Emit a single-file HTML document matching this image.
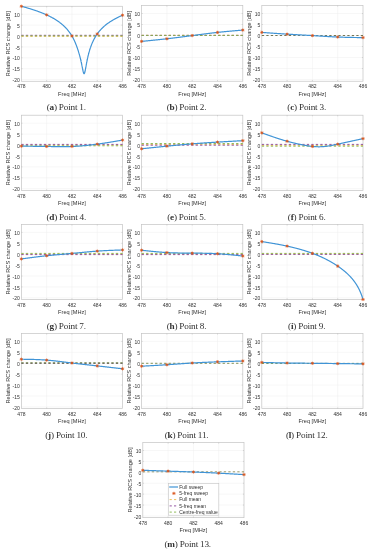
<!DOCTYPE html>
<html><head><meta charset="utf-8"><style>
html,body{margin:0;padding:0;background:#fff;}
body{width:373px;height:550px;overflow:hidden;}
svg{display:block;filter:blur(0.4px);}
.t{text-rendering:auto;}
</style></head><body>
<svg width="373" height="550" viewBox="0 0 373 550">
<rect width="373" height="550" fill="#fff"/>
<clipPath id="clipa"><rect x="20.85" y="6.07" width="102.20" height="75.40"/></clipPath>
<path d="M46.65 6.27V81.27M71.95 6.27V81.27M97.25 6.27V81.27M21.35 14.24H122.55M21.35 25.13H122.55M21.35 36.03H122.55M21.35 46.92H122.55M21.35 57.81H122.55M21.35 68.70H122.55M21.35 79.59H122.55" stroke="#efefef" stroke-width="0.5" fill="none"/>
<rect x="21.35" y="6.27" width="101.20" height="75.00" fill="none" stroke="#c4c4c4" stroke-width="0.7"/>
<path d="M21.35 14.24h1.1M122.55 14.24h-1.1M21.35 25.13h1.1M122.55 25.13h-1.1M21.35 36.03h1.1M122.55 36.03h-1.1M21.35 46.92h1.1M122.55 46.92h-1.1M21.35 57.81h1.1M122.55 57.81h-1.1M21.35 68.70h1.1M122.55 68.70h-1.1M46.65 81.27v-1.1M46.65 6.27v1.1M71.95 81.27v-1.1M71.95 6.27v1.1M97.25 81.27v-1.1M97.25 6.27v1.1" stroke="#b8b8b8" stroke-width="0.5" fill="none"/>
<g clip-path="url(#clipa)">
<path d="M21.35 36.30H122.55" stroke="#EDB94A" stroke-width="0.9" stroke-dasharray="2.3 2.2" fill="none"/>
<path d="M21.35 35.30H122.55" stroke="#8A4498" stroke-width="0.9" stroke-dasharray="2.3 2.2" fill="none"/>
<path d="M21.35 35.85H122.55" stroke="#85B64A" stroke-width="0.9" stroke-dasharray="2.3 2.2" fill="none"/>
<path d="M21.35 6.27 L21.73 6.37 L22.11 6.47 L22.50 6.58 L22.88 6.68 L23.26 6.79 L23.64 6.89 L24.02 7.00 L24.41 7.10 L24.79 7.21 L25.17 7.32 L25.55 7.42 L25.93 7.53 L26.32 7.64 L26.70 7.75 L27.08 7.86 L27.46 7.97 L27.84 8.08 L28.23 8.20 L28.61 8.31 L28.99 8.43 L29.37 8.54 L29.76 8.66 L30.14 8.77 L30.52 8.89 L30.90 9.01 L31.28 9.13 L31.67 9.25 L32.05 9.37 L32.43 9.49 L32.81 9.62 L33.19 9.74 L33.58 9.86 L33.96 9.99 L34.34 10.12 L34.72 10.25 L35.10 10.37 L35.49 10.50 L35.87 10.64 L36.25 10.77 L36.63 10.90 L37.01 11.04 L37.40 11.17 L37.78 11.31 L38.16 11.45 L38.54 11.59 L38.92 11.73 L39.31 11.87 L39.69 12.01 L40.07 12.16 L40.45 12.30 L40.83 12.45 L41.22 12.60 L41.60 12.75 L41.98 12.90 L42.36 13.06 L42.74 13.21 L43.13 13.37 L43.51 13.53 L43.89 13.69 L44.27 13.85 L44.65 14.01 L45.04 14.18 L45.42 14.34 L45.80 14.51 L46.18 14.68 L46.57 14.86 L46.95 15.03 L47.33 15.21 L47.71 15.39 L48.09 15.57 L48.48 15.75 L48.86 15.94 L49.24 16.13 L49.62 16.32 L50.00 16.51 L50.39 16.71 L50.77 16.91 L51.15 17.11 L51.53 17.31 L51.91 17.52 L52.30 17.73 L52.68 17.94 L53.06 18.15 L53.44 18.37 L53.82 18.59 L54.21 18.82 L54.59 19.05 L54.97 19.28 L55.35 19.51 L55.73 19.75 L56.12 19.99 L56.50 20.24 L56.88 20.49 L57.26 20.75 L57.64 21.00 L58.03 21.27 L58.41 21.53 L58.79 21.81 L59.17 22.08 L59.55 22.37 L59.94 22.65 L60.32 22.95 L60.70 23.24 L61.08 23.55 L61.46 23.86 L61.85 24.17 L62.23 24.50 L62.61 24.83 L62.99 25.16 L63.38 25.50 L63.76 25.85 L64.14 26.21 L64.52 26.58 L64.90 26.95 L65.29 27.34 L65.67 27.73 L66.05 28.13 L66.43 28.55 L66.81 28.97 L67.20 29.40 L67.58 29.85 L67.96 30.31 L68.34 30.78 L68.72 31.26 L69.11 31.76 L69.49 32.28 L69.87 32.81 L70.25 33.36 L70.63 33.92 L71.02 34.51 L71.40 35.11 L71.78 35.74 L72.16 36.39 L72.54 37.07 L72.93 37.77 L73.31 38.49 L73.69 39.25 L74.07 40.03 L74.45 40.85 L74.84 41.69 L75.22 42.57 L75.60 43.48 L75.98 44.42 L76.36 45.40 L76.75 46.42 L77.13 47.48 L77.51 48.58 L77.89 49.72 L78.28 50.90 L78.28 50.90 L78.32 51.03 L78.36 51.17 L78.40 51.30 L78.44 51.44 L78.49 51.57 L78.53 51.71 L78.57 51.85 L78.61 51.99 L78.66 52.12 L78.70 52.26 L78.74 52.40 L78.78 52.54 L78.82 52.69 L78.87 52.83 L78.91 52.97 L78.95 53.11 L78.99 53.26 L79.04 53.40 L79.08 53.55 L79.12 53.69 L79.16 53.84 L79.21 53.99 L79.25 54.14 L79.29 54.29 L79.33 54.44 L79.37 54.59 L79.42 54.74 L79.46 54.89 L79.50 55.05 L79.54 55.20 L79.59 55.35 L79.63 55.51 L79.67 55.67 L79.71 55.82 L79.76 55.98 L79.80 56.14 L79.84 56.30 L79.88 56.46 L79.92 56.63 L79.97 56.79 L80.01 56.95 L80.05 57.12 L80.09 57.28 L80.14 57.45 L80.18 57.62 L80.22 57.79 L80.26 57.96 L80.31 58.13 L80.35 58.30 L80.39 58.47 L80.43 58.65 L80.47 58.82 L80.52 59.00 L80.56 59.17 L80.60 59.35 L80.64 59.53 L80.69 59.71 L80.73 59.89 L80.77 60.08 L80.81 60.26 L80.86 60.45 L80.90 60.63 L80.94 60.82 L80.98 61.01 L81.02 61.20 L81.07 61.39 L81.11 61.58 L81.15 61.77 L81.19 61.96 L81.24 62.16 L81.28 62.36 L81.32 62.55 L81.36 62.75 L81.41 62.95 L81.45 63.15 L81.49 63.35 L81.53 63.56 L81.57 63.76 L81.62 63.96 L81.66 64.17 L81.70 64.38 L81.74 64.58 L81.79 64.79 L81.83 65.00 L81.87 65.21 L81.91 65.42 L81.96 65.63 L82.00 65.84 L82.04 66.06 L82.08 66.27 L82.12 66.48 L82.17 66.70 L82.21 66.91 L82.25 67.13 L82.29 67.34 L82.34 67.55 L82.38 67.77 L82.42 67.98 L82.46 68.20 L82.51 68.41 L82.55 68.62 L82.59 68.83 L82.63 69.04 L82.67 69.25 L82.72 69.46 L82.76 69.67 L82.80 69.87 L82.84 70.08 L82.89 70.28 L82.93 70.47 L82.97 70.67 L83.01 70.86 L83.06 71.05 L83.10 71.23 L83.14 71.41 L83.18 71.59 L83.22 71.76 L83.27 71.93 L83.31 72.09 L83.35 72.25 L83.39 72.40 L83.44 72.54 L83.48 72.68 L83.52 72.81 L83.56 72.93 L83.61 73.04 L83.65 73.15 L83.69 73.25 L83.73 73.34 L83.77 73.42 L83.82 73.49 L83.86 73.55 L83.90 73.60 L83.94 73.65 L83.99 73.68 L84.03 73.70 L84.07 73.71 L84.11 73.71 L84.16 73.70 L84.20 73.68 L84.24 73.65 L84.28 73.61 L84.32 73.55 L84.37 73.49 L84.41 73.42 L84.45 73.34 L84.49 73.24 L84.54 73.14 L84.58 73.03 L84.62 72.91 L84.66 72.78 L84.71 72.65 L84.75 72.50 L84.79 72.35 L84.83 72.19 L84.88 72.03 L84.92 71.86 L84.96 71.68 L85.00 71.49 L85.04 71.30 L85.09 71.11 L85.13 70.91 L85.17 70.71 L85.21 70.50 L85.26 70.29 L85.30 70.07 L85.34 69.85 L85.38 69.63 L85.43 69.41 L85.47 69.18 L85.51 68.96 L85.55 68.73 L85.59 68.50 L85.64 68.27 L85.68 68.03 L85.72 67.80 L85.76 67.57 L85.81 67.33 L85.85 67.10 L85.89 66.86 L85.93 66.62 L85.98 66.39 L86.02 66.15 L86.06 65.92 L86.10 65.68 L86.14 65.45 L86.19 65.22 L86.23 64.98 L86.27 64.75 L86.31 64.52 L86.36 64.29 L86.40 64.06 L86.44 63.83 L86.48 63.60 L86.53 63.38 L86.57 63.15 L86.61 62.93 L86.65 62.70 L86.69 62.48 L86.74 62.26 L86.78 62.04 L86.82 61.83 L86.86 61.61 L86.91 61.39 L86.95 61.18 L86.99 60.97 L87.03 60.76 L87.08 60.55 L87.12 60.34 L87.16 60.13 L87.20 59.92 L87.24 59.72 L87.29 59.52 L87.33 59.31 L87.37 59.11 L87.41 58.92 L87.46 58.72 L87.50 58.52 L87.54 58.33 L87.58 58.13 L87.63 57.94 L87.67 57.75 L87.71 57.56 L87.75 57.37 L87.79 57.19 L87.84 57.00 L87.88 56.82 L87.92 56.63 L87.96 56.45 L88.01 56.27 L88.05 56.09 L88.09 55.92 L88.13 55.74 L88.18 55.56 L88.22 55.39 L88.26 55.22 L88.30 55.05 L88.34 54.87 L88.39 54.71 L88.43 54.54 L88.47 54.37 L88.51 54.20 L88.56 54.04 L88.60 53.88 L88.64 53.71 L88.68 53.55 L88.73 53.39 L88.77 53.23 L88.81 53.08 L88.85 52.92 L88.89 52.76 L88.94 52.61 L88.98 52.45 L89.02 52.30 L89.06 52.15 L89.11 52.00 L89.15 51.85 L89.19 51.70 L89.23 51.55 L89.28 51.41 L89.32 51.26 L89.36 51.11 L89.40 50.97 L89.44 50.83 L89.49 50.68 L89.53 50.54 L89.57 50.40 L89.61 50.26 L89.66 50.12 L89.70 49.99 L89.74 49.85 L89.78 49.71 L89.83 49.58 L89.87 49.44 L89.91 49.31 L89.95 49.18 L89.99 49.05 L90.04 48.91 L90.08 48.78 L90.12 48.65 L90.16 48.53 L90.21 48.40 L90.25 48.27 L90.29 48.14 L90.33 48.02 L90.38 47.89 L90.42 47.77 L90.46 47.64 L90.50 47.52 L90.54 47.40 L90.59 47.28 L90.63 47.16 L90.67 47.04 L90.71 46.92 L90.76 46.80 L90.80 46.68 L90.84 46.56 L90.88 46.45 L90.93 46.33 L90.93 46.33 L91.24 45.47 L91.56 44.65 L91.88 43.86 L92.20 43.10 L92.52 42.37 L92.84 41.66 L93.16 40.98 L93.48 40.32 L93.80 39.68 L94.12 39.07 L94.44 38.47 L94.76 37.89 L95.08 37.33 L95.40 36.79 L95.72 36.26 L96.04 35.75 L96.36 35.25 L96.67 34.77 L96.99 34.30 L97.31 33.84 L97.63 33.40 L97.95 32.97 L98.27 32.55 L98.59 32.14 L98.91 31.74 L99.23 31.35 L99.55 30.97 L99.87 30.59 L100.19 30.23 L100.51 29.88 L100.83 29.53 L101.15 29.19 L101.47 28.86 L101.79 28.53 L102.11 28.21 L102.43 27.90 L102.74 27.59 L103.06 27.29 L103.38 26.99 L103.70 26.70 L104.02 26.42 L104.34 26.14 L104.66 25.87 L104.98 25.60 L105.30 25.33 L105.62 25.07 L105.94 24.82 L106.26 24.56 L106.58 24.32 L106.90 24.07 L107.22 23.83 L107.54 23.59 L107.86 23.36 L108.18 23.13 L108.49 22.91 L108.81 22.68 L109.13 22.46 L109.45 22.25 L109.77 22.03 L110.09 21.82 L110.41 21.61 L110.73 21.41 L111.05 21.20 L111.37 21.00 L111.69 20.81 L112.01 20.61 L112.33 20.42 L112.65 20.23 L112.97 20.04 L113.29 19.85 L113.61 19.67 L113.92 19.49 L114.24 19.31 L114.56 19.13 L114.88 18.95 L115.20 18.78 L115.52 18.61 L115.84 18.44 L116.16 18.27 L116.48 18.10 L116.80 17.94 L117.12 17.77 L117.44 17.61 L117.76 17.45 L118.08 17.29 L118.40 17.13 L118.72 16.98 L119.04 16.82 L119.36 16.67 L119.67 16.52 L119.99 16.36 L120.31 16.22 L120.63 16.07 L120.95 15.92 L121.27 15.77 L121.59 15.63 L121.91 15.49 L122.23 15.34 L122.55 15.20" stroke="#4094d6" stroke-width="1.2" fill="none" stroke-linejoin="round"/>
</g>
<path d="M19.75 6.27H22.95M21.35 4.67V7.87M20.22 5.14L22.48 7.40M20.22 7.40L22.48 5.14" stroke="#D95319" stroke-width="0.75" fill="none"/>
<path d="M45.05 14.90H48.25M46.65 13.30V16.50M45.52 13.76L47.78 16.03M45.52 16.03L47.78 13.76" stroke="#D95319" stroke-width="0.75" fill="none"/>
<path d="M70.35 36.03H73.55M71.95 34.43V37.63M70.82 34.89L73.08 37.16M70.82 37.16L73.08 34.89" stroke="#D95319" stroke-width="0.75" fill="none"/>
<path d="M95.65 33.93H98.85M97.25 32.33V35.53M96.12 32.80L98.38 35.07M96.12 35.07L98.38 32.80" stroke="#D95319" stroke-width="0.75" fill="none"/>
<path d="M120.95 15.20H124.15M122.55 13.60V16.80M121.42 14.07L123.68 16.33M121.42 16.33L123.68 14.07" stroke="#D95319" stroke-width="0.75" fill="none"/>
<g class="t" font-family="&quot;Liberation Sans&quot;, sans-serif" font-size="5.0" fill="#333333"><text x="19.85" y="16.84" text-anchor="end">10</text><text x="19.85" y="27.73" text-anchor="end">5</text><text x="19.85" y="38.63" text-anchor="end">0</text><text x="19.85" y="49.52" text-anchor="end">-5</text><text x="19.85" y="60.41" text-anchor="end">-10</text><text x="19.85" y="71.30" text-anchor="end">-15</text><text x="19.85" y="82.19" text-anchor="end">-20</text><text x="21.35" y="87.77" text-anchor="middle">478</text><text x="46.65" y="87.77" text-anchor="middle">480</text><text x="71.95" y="87.77" text-anchor="middle">482</text><text x="97.25" y="87.77" text-anchor="middle">484</text><text x="122.55" y="87.77" text-anchor="middle">486</text></g>
<text x="71.95" y="95.87" text-anchor="middle" class="t" font-family="&quot;Liberation Sans&quot;, sans-serif" font-size="5.6" fill="#333333">Freq [MHz]</text>
<text transform="translate(10.30 43.77) rotate(-90)" x="0" y="0" text-anchor="middle" class="t" font-family="&quot;Liberation Sans&quot;, sans-serif" font-size="5.6" fill="#333333">Relative RCS change [dB]</text>
<text x="66.35" y="110.37" text-anchor="middle" font-family="&quot;Liberation Serif&quot;, serif" font-size="9.2" fill="#303030" textLength="39.39" lengthAdjust="spacing">(<tspan font-weight="bold">a</tspan>) Point 1.</text>
<clipPath id="clipb"><rect x="141.10" y="5.27" width="102.20" height="76.15"/></clipPath>
<path d="M166.90 5.47V81.22M192.20 5.47V81.22M217.50 5.47V81.22M141.60 13.52H242.80M141.60 24.52H242.80M141.60 35.52H242.80M141.60 46.52H242.80M141.60 57.52H242.80M141.60 68.53H242.80M141.60 79.53H242.80" stroke="#efefef" stroke-width="0.5" fill="none"/>
<rect x="141.60" y="5.47" width="101.20" height="75.75" fill="none" stroke="#c4c4c4" stroke-width="0.7"/>
<path d="M141.60 13.52h1.1M242.80 13.52h-1.1M141.60 24.52h1.1M242.80 24.52h-1.1M141.60 35.52h1.1M242.80 35.52h-1.1M141.60 46.52h1.1M242.80 46.52h-1.1M141.60 57.52h1.1M242.80 57.52h-1.1M141.60 68.53h1.1M242.80 68.53h-1.1M166.90 81.22v-1.1M166.90 5.47v1.1M192.20 81.22v-1.1M192.20 5.47v1.1M217.50 81.22v-1.1M217.50 5.47v1.1" stroke="#b8b8b8" stroke-width="0.5" fill="none"/>
<g clip-path="url(#clipb)">
<path d="M141.60 35.30H242.80" stroke="#EDB94A" stroke-width="0.9" stroke-dasharray="2.3 2.2" fill="none"/>
<path d="M141.60 35.40H242.80" stroke="#8A4498" stroke-width="0.9" stroke-dasharray="2.3 2.2" fill="none"/>
<path d="M141.60 35.45H242.80" stroke="#85B64A" stroke-width="0.9" stroke-dasharray="2.3 2.2" fill="none"/>
<path d="M141.60 41.37 L141.85 41.35 L142.11 41.33 L142.36 41.30 L142.61 41.28 L142.87 41.25 L143.12 41.23 L143.38 41.20 L143.63 41.18 L143.88 41.15 L144.14 41.13 L144.39 41.10 L144.64 41.08 L144.90 41.05 L145.15 41.03 L145.40 41.00 L145.66 40.98 L145.91 40.95 L146.17 40.93 L146.42 40.90 L146.67 40.88 L146.93 40.85 L147.18 40.83 L147.43 40.80 L147.69 40.78 L147.94 40.75 L148.19 40.73 L148.45 40.70 L148.70 40.68 L148.96 40.65 L149.21 40.63 L149.46 40.60 L149.72 40.58 L149.97 40.55 L150.22 40.53 L150.48 40.50 L150.73 40.48 L150.98 40.45 L151.24 40.43 L151.49 40.40 L151.75 40.38 L152.00 40.35 L152.25 40.33 L152.51 40.30 L152.76 40.27 L153.01 40.25 L153.27 40.22 L153.52 40.20 L153.77 40.17 L154.03 40.15 L154.28 40.12 L154.54 40.10 L154.79 40.07 L155.04 40.04 L155.30 40.02 L155.55 39.99 L155.80 39.97 L156.06 39.94 L156.31 39.91 L156.56 39.89 L156.82 39.86 L157.07 39.83 L157.33 39.81 L157.58 39.78 L157.83 39.76 L158.09 39.73 L158.34 39.70 L158.59 39.68 L158.85 39.65 L159.10 39.62 L159.35 39.60 L159.61 39.57 L159.86 39.54 L160.12 39.52 L160.37 39.49 L160.62 39.46 L160.88 39.43 L161.13 39.41 L161.38 39.38 L161.64 39.35 L161.89 39.32 L162.14 39.30 L162.40 39.27 L162.65 39.24 L162.91 39.21 L163.16 39.19 L163.41 39.16 L163.67 39.13 L163.92 39.10 L164.17 39.08 L164.43 39.05 L164.68 39.02 L164.93 38.99 L165.19 38.96 L165.44 38.93 L165.70 38.91 L165.95 38.88 L166.20 38.85 L166.46 38.82 L166.71 38.79 L166.96 38.76 L167.22 38.73 L167.47 38.70 L167.72 38.67 L167.98 38.65 L168.23 38.62 L168.49 38.59 L168.74 38.56 L168.99 38.53 L169.25 38.50 L169.50 38.47 L169.75 38.44 L170.01 38.41 L170.26 38.38 L170.51 38.35 L170.77 38.32 L171.02 38.29 L171.28 38.26 L171.53 38.23 L171.78 38.20 L172.04 38.17 L172.29 38.14 L172.54 38.11 L172.80 38.08 L173.05 38.04 L173.30 38.01 L173.56 37.98 L173.81 37.95 L174.07 37.92 L174.32 37.89 L174.57 37.86 L174.83 37.83 L175.08 37.80 L175.33 37.77 L175.59 37.73 L175.84 37.70 L176.09 37.67 L176.35 37.64 L176.60 37.61 L176.86 37.58 L177.11 37.54 L177.36 37.51 L177.62 37.48 L177.87 37.45 L178.12 37.42 L178.38 37.39 L178.63 37.35 L178.88 37.32 L179.14 37.29 L179.39 37.26 L179.65 37.22 L179.90 37.19 L180.15 37.16 L180.41 37.13 L180.66 37.10 L180.91 37.06 L181.17 37.03 L181.42 37.00 L181.67 36.97 L181.93 36.93 L182.18 36.90 L182.44 36.87 L182.69 36.83 L182.94 36.80 L183.20 36.77 L183.45 36.74 L183.70 36.70 L183.96 36.67 L184.21 36.64 L184.46 36.60 L184.72 36.57 L184.97 36.54 L185.23 36.50 L185.48 36.47 L185.73 36.44 L185.99 36.41 L186.24 36.37 L186.49 36.34 L186.75 36.31 L187.00 36.27 L187.25 36.24 L187.51 36.21 L187.76 36.17 L188.02 36.14 L188.27 36.11 L188.52 36.07 L188.78 36.04 L189.03 36.00 L189.28 35.97 L189.54 35.94 L189.79 35.90 L190.04 35.87 L190.30 35.84 L190.55 35.80 L190.81 35.77 L191.06 35.74 L191.31 35.70 L191.57 35.67 L191.82 35.63 L192.07 35.60 L192.33 35.57 L192.58 35.53 L192.83 35.50 L193.09 35.47 L193.34 35.43 L193.59 35.40 L193.85 35.36 L194.10 35.33 L194.36 35.30 L194.61 35.26 L194.86 35.23 L195.12 35.20 L195.37 35.16 L195.62 35.13 L195.88 35.09 L196.13 35.06 L196.38 35.03 L196.64 34.99 L196.89 34.96 L197.15 34.93 L197.40 34.89 L197.65 34.86 L197.91 34.82 L198.16 34.79 L198.41 34.76 L198.67 34.72 L198.92 34.69 L199.17 34.66 L199.43 34.62 L199.68 34.59 L199.94 34.56 L200.19 34.52 L200.44 34.49 L200.70 34.46 L200.95 34.42 L201.20 34.39 L201.46 34.36 L201.71 34.32 L201.96 34.29 L202.22 34.26 L202.47 34.22 L202.73 34.19 L202.98 34.16 L203.23 34.12 L203.49 34.09 L203.74 34.06 L203.99 34.03 L204.25 33.99 L204.50 33.96 L204.75 33.93 L205.01 33.90 L205.26 33.86 L205.52 33.83 L205.77 33.80 L206.02 33.77 L206.28 33.73 L206.53 33.70 L206.78 33.67 L207.04 33.64 L207.29 33.61 L207.54 33.57 L207.80 33.54 L208.05 33.51 L208.31 33.48 L208.56 33.45 L208.81 33.42 L209.07 33.38 L209.32 33.35 L209.57 33.32 L209.83 33.29 L210.08 33.26 L210.33 33.23 L210.59 33.20 L210.84 33.17 L211.10 33.14 L211.35 33.11 L211.60 33.08 L211.86 33.05 L212.11 33.02 L212.36 32.99 L212.62 32.96 L212.87 32.93 L213.12 32.90 L213.38 32.87 L213.63 32.84 L213.89 32.81 L214.14 32.78 L214.39 32.75 L214.65 32.72 L214.90 32.69 L215.15 32.66 L215.41 32.63 L215.66 32.60 L215.91 32.58 L216.17 32.55 L216.42 32.52 L216.68 32.49 L216.93 32.46 L217.18 32.43 L217.44 32.41 L217.69 32.38 L217.94 32.35 L218.20 32.32 L218.45 32.30 L218.70 32.27 L218.96 32.24 L219.21 32.22 L219.47 32.19 L219.72 32.16 L219.97 32.14 L220.23 32.11 L220.48 32.08 L220.73 32.06 L220.99 32.03 L221.24 32.01 L221.49 31.98 L221.75 31.95 L222.00 31.93 L222.26 31.90 L222.51 31.88 L222.76 31.85 L223.02 31.83 L223.27 31.80 L223.52 31.78 L223.78 31.75 L224.03 31.73 L224.28 31.70 L224.54 31.68 L224.79 31.65 L225.05 31.63 L225.30 31.61 L225.55 31.58 L225.81 31.56 L226.06 31.53 L226.31 31.51 L226.57 31.49 L226.82 31.46 L227.07 31.44 L227.33 31.41 L227.58 31.39 L227.84 31.37 L228.09 31.34 L228.34 31.32 L228.60 31.30 L228.85 31.28 L229.10 31.25 L229.36 31.23 L229.61 31.21 L229.86 31.18 L230.12 31.16 L230.37 31.14 L230.63 31.12 L230.88 31.09 L231.13 31.07 L231.39 31.05 L231.64 31.03 L231.89 31.00 L232.15 30.98 L232.40 30.96 L232.65 30.94 L232.91 30.92 L233.16 30.89 L233.42 30.87 L233.67 30.85 L233.92 30.83 L234.18 30.81 L234.43 30.78 L234.68 30.76 L234.94 30.74 L235.19 30.72 L235.44 30.70 L235.70 30.68 L235.95 30.65 L236.21 30.63 L236.46 30.61 L236.71 30.59 L236.97 30.57 L237.22 30.55 L237.47 30.53 L237.73 30.50 L237.98 30.48 L238.23 30.46 L238.49 30.44 L238.74 30.42 L239.00 30.40 L239.25 30.38 L239.50 30.36 L239.76 30.34 L240.01 30.31 L240.26 30.29 L240.52 30.27 L240.77 30.25 L241.02 30.23 L241.28 30.21 L241.53 30.19 L241.79 30.17 L242.04 30.15 L242.29 30.13 L242.55 30.10 L242.80 30.08" stroke="#4094d6" stroke-width="1.2" fill="none" stroke-linejoin="round"/>
</g>
<path d="M140.00 41.37H143.20M141.60 39.77V42.97M140.47 40.24L142.73 42.51M140.47 42.51L142.73 40.24" stroke="#D95319" stroke-width="0.75" fill="none"/>
<path d="M165.30 38.77H168.50M166.90 37.17V40.37M165.77 37.64L168.03 39.90M165.77 39.90L168.03 37.64" stroke="#D95319" stroke-width="0.75" fill="none"/>
<path d="M190.60 35.58H193.80M192.20 33.98V37.18M191.07 34.45L193.33 36.72M191.07 36.72L193.33 34.45" stroke="#D95319" stroke-width="0.75" fill="none"/>
<path d="M215.90 32.40H219.10M217.50 30.80V34.00M216.37 31.27L218.63 33.53M216.37 33.53L218.63 31.27" stroke="#D95319" stroke-width="0.75" fill="none"/>
<path d="M241.20 30.08H244.40M242.80 28.48V31.68M241.67 28.95L243.93 31.21M241.67 31.21L243.93 28.95" stroke="#D95319" stroke-width="0.75" fill="none"/>
<g class="t" font-family="&quot;Liberation Sans&quot;, sans-serif" font-size="5.0" fill="#333333"><text x="140.10" y="16.12" text-anchor="end">10</text><text x="140.10" y="27.12" text-anchor="end">5</text><text x="140.10" y="38.12" text-anchor="end">0</text><text x="140.10" y="49.12" text-anchor="end">-5</text><text x="140.10" y="60.12" text-anchor="end">-10</text><text x="140.10" y="71.13" text-anchor="end">-15</text><text x="140.10" y="82.13" text-anchor="end">-20</text><text x="141.60" y="87.72" text-anchor="middle">478</text><text x="166.90" y="87.72" text-anchor="middle">480</text><text x="192.20" y="87.72" text-anchor="middle">482</text><text x="217.50" y="87.72" text-anchor="middle">484</text><text x="242.80" y="87.72" text-anchor="middle">486</text></g>
<text x="192.20" y="95.82" text-anchor="middle" class="t" font-family="&quot;Liberation Sans&quot;, sans-serif" font-size="5.6" fill="#333333">Freq [MHz]</text>
<text transform="translate(130.55 43.34) rotate(-90)" x="0" y="0" text-anchor="middle" class="t" font-family="&quot;Liberation Sans&quot;, sans-serif" font-size="5.6" fill="#333333">Relative RCS change [dB]</text>
<text x="186.60" y="110.32" text-anchor="middle" font-family="&quot;Liberation Serif&quot;, serif" font-size="9.2" fill="#303030" textLength="39.88" lengthAdjust="spacing">(<tspan font-weight="bold">b</tspan>) Point 2.</text>
<clipPath id="clipc"><rect x="261.30" y="5.27" width="102.20" height="76.15"/></clipPath>
<path d="M287.10 5.47V81.22M312.40 5.47V81.22M337.70 5.47V81.22M261.80 13.52H363.00M261.80 24.52H363.00M261.80 35.52H363.00M261.80 46.52H363.00M261.80 57.52H363.00M261.80 68.53H363.00M261.80 79.53H363.00" stroke="#efefef" stroke-width="0.5" fill="none"/>
<rect x="261.80" y="5.47" width="101.20" height="75.75" fill="none" stroke="#c4c4c4" stroke-width="0.7"/>
<path d="M261.80 13.52h1.1M363.00 13.52h-1.1M261.80 24.52h1.1M363.00 24.52h-1.1M261.80 35.52h1.1M363.00 35.52h-1.1M261.80 46.52h1.1M363.00 46.52h-1.1M261.80 57.52h1.1M363.00 57.52h-1.1M261.80 68.53h1.1M363.00 68.53h-1.1M287.10 81.22v-1.1M287.10 5.47v1.1M312.40 81.22v-1.1M312.40 5.47v1.1M337.70 81.22v-1.1M337.70 5.47v1.1" stroke="#b8b8b8" stroke-width="0.5" fill="none"/>
<g clip-path="url(#clipc)">
<path d="M261.80 35.50H363.00" stroke="#66663f" stroke-width="0.9" stroke-dasharray="2.3 2.2" fill="none"/>
<path d="M261.80 32.40 L262.05 32.42 L262.31 32.44 L262.56 32.45 L262.81 32.47 L263.07 32.49 L263.32 32.51 L263.58 32.53 L263.83 32.55 L264.08 32.56 L264.34 32.58 L264.59 32.60 L264.84 32.62 L265.10 32.64 L265.35 32.66 L265.60 32.67 L265.86 32.69 L266.11 32.71 L266.37 32.73 L266.62 32.75 L266.87 32.77 L267.13 32.78 L267.38 32.80 L267.63 32.82 L267.89 32.84 L268.14 32.86 L268.39 32.87 L268.65 32.89 L268.90 32.91 L269.16 32.93 L269.41 32.95 L269.66 32.97 L269.92 32.98 L270.17 33.00 L270.42 33.02 L270.68 33.04 L270.93 33.06 L271.18 33.07 L271.44 33.09 L271.69 33.11 L271.95 33.13 L272.20 33.15 L272.45 33.16 L272.71 33.18 L272.96 33.20 L273.21 33.22 L273.47 33.23 L273.72 33.25 L273.97 33.27 L274.23 33.29 L274.48 33.31 L274.74 33.32 L274.99 33.34 L275.24 33.36 L275.50 33.38 L275.75 33.39 L276.00 33.41 L276.26 33.43 L276.51 33.45 L276.76 33.46 L277.02 33.48 L277.27 33.50 L277.53 33.51 L277.78 33.53 L278.03 33.55 L278.29 33.57 L278.54 33.58 L278.79 33.60 L279.05 33.62 L279.30 33.63 L279.55 33.65 L279.81 33.67 L280.06 33.69 L280.32 33.70 L280.57 33.72 L280.82 33.74 L281.08 33.75 L281.33 33.77 L281.58 33.79 L281.84 33.80 L282.09 33.82 L282.34 33.84 L282.60 33.85 L282.85 33.87 L283.11 33.89 L283.36 33.90 L283.61 33.92 L283.87 33.93 L284.12 33.95 L284.37 33.97 L284.63 33.98 L284.88 34.00 L285.13 34.01 L285.39 34.03 L285.64 34.05 L285.90 34.06 L286.15 34.08 L286.40 34.09 L286.66 34.11 L286.91 34.12 L287.16 34.14 L287.42 34.16 L287.67 34.17 L287.92 34.19 L288.18 34.20 L288.43 34.22 L288.69 34.23 L288.94 34.25 L289.19 34.26 L289.45 34.28 L289.70 34.29 L289.95 34.31 L290.21 34.32 L290.46 34.34 L290.71 34.35 L290.97 34.37 L291.22 34.38 L291.48 34.40 L291.73 34.41 L291.98 34.43 L292.24 34.44 L292.49 34.46 L292.74 34.47 L293.00 34.49 L293.25 34.50 L293.50 34.51 L293.76 34.53 L294.01 34.54 L294.27 34.56 L294.52 34.57 L294.77 34.59 L295.03 34.60 L295.28 34.61 L295.53 34.63 L295.79 34.64 L296.04 34.66 L296.29 34.67 L296.55 34.69 L296.80 34.70 L297.06 34.71 L297.31 34.73 L297.56 34.74 L297.82 34.76 L298.07 34.77 L298.32 34.79 L298.58 34.80 L298.83 34.81 L299.08 34.83 L299.34 34.84 L299.59 34.86 L299.85 34.87 L300.10 34.88 L300.35 34.90 L300.61 34.91 L300.86 34.93 L301.11 34.94 L301.37 34.95 L301.62 34.97 L301.87 34.98 L302.13 35.00 L302.38 35.01 L302.64 35.02 L302.89 35.04 L303.14 35.05 L303.40 35.07 L303.65 35.08 L303.90 35.10 L304.16 35.11 L304.41 35.12 L304.66 35.14 L304.92 35.15 L305.17 35.17 L305.43 35.18 L305.68 35.19 L305.93 35.21 L306.19 35.22 L306.44 35.24 L306.69 35.25 L306.95 35.27 L307.20 35.28 L307.45 35.30 L307.71 35.31 L307.96 35.32 L308.22 35.34 L308.47 35.35 L308.72 35.37 L308.98 35.38 L309.23 35.40 L309.48 35.41 L309.74 35.43 L309.99 35.44 L310.24 35.46 L310.50 35.47 L310.75 35.49 L311.01 35.50 L311.26 35.52 L311.51 35.53 L311.77 35.55 L312.02 35.56 L312.27 35.58 L312.53 35.59 L312.78 35.61 L313.03 35.62 L313.29 35.64 L313.54 35.65 L313.79 35.67 L314.05 35.68 L314.30 35.70 L314.56 35.72 L314.81 35.73 L315.06 35.75 L315.32 35.76 L315.57 35.78 L315.82 35.79 L316.08 35.81 L316.33 35.83 L316.58 35.84 L316.84 35.86 L317.09 35.87 L317.35 35.89 L317.60 35.90 L317.85 35.92 L318.11 35.94 L318.36 35.95 L318.61 35.97 L318.87 35.98 L319.12 36.00 L319.37 36.02 L319.63 36.03 L319.88 36.05 L320.14 36.06 L320.39 36.08 L320.64 36.09 L320.90 36.11 L321.15 36.13 L321.40 36.14 L321.66 36.16 L321.91 36.17 L322.16 36.19 L322.42 36.21 L322.67 36.22 L322.93 36.24 L323.18 36.25 L323.43 36.27 L323.69 36.28 L323.94 36.30 L324.19 36.31 L324.45 36.33 L324.70 36.35 L324.95 36.36 L325.21 36.38 L325.46 36.39 L325.72 36.41 L325.97 36.42 L326.22 36.44 L326.48 36.45 L326.73 36.47 L326.98 36.48 L327.24 36.50 L327.49 36.51 L327.74 36.53 L328.00 36.54 L328.25 36.56 L328.51 36.57 L328.76 36.58 L329.01 36.60 L329.27 36.61 L329.52 36.63 L329.77 36.64 L330.03 36.66 L330.28 36.67 L330.53 36.68 L330.79 36.70 L331.04 36.71 L331.30 36.72 L331.55 36.74 L331.80 36.75 L332.06 36.76 L332.31 36.78 L332.56 36.79 L332.82 36.80 L333.07 36.82 L333.32 36.83 L333.58 36.84 L333.83 36.86 L334.09 36.87 L334.34 36.88 L334.59 36.89 L334.85 36.90 L335.10 36.92 L335.35 36.93 L335.61 36.94 L335.86 36.95 L336.11 36.96 L336.37 36.97 L336.62 36.99 L336.88 37.00 L337.13 37.01 L337.38 37.02 L337.64 37.03 L337.89 37.04 L338.14 37.05 L338.40 37.06 L338.65 37.07 L338.90 37.08 L339.16 37.09 L339.41 37.10 L339.67 37.11 L339.92 37.12 L340.17 37.13 L340.43 37.14 L340.68 37.15 L340.93 37.16 L341.19 37.16 L341.44 37.17 L341.69 37.18 L341.95 37.19 L342.20 37.20 L342.46 37.21 L342.71 37.21 L342.96 37.22 L343.22 37.23 L343.47 37.24 L343.72 37.25 L343.98 37.25 L344.23 37.26 L344.48 37.27 L344.74 37.28 L344.99 37.28 L345.25 37.29 L345.50 37.30 L345.75 37.30 L346.01 37.31 L346.26 37.32 L346.51 37.32 L346.77 37.33 L347.02 37.34 L347.27 37.34 L347.53 37.35 L347.78 37.35 L348.04 37.36 L348.29 37.37 L348.54 37.37 L348.80 37.38 L349.05 37.38 L349.30 37.39 L349.56 37.39 L349.81 37.40 L350.06 37.40 L350.32 37.41 L350.57 37.42 L350.83 37.42 L351.08 37.43 L351.33 37.43 L351.59 37.44 L351.84 37.44 L352.09 37.44 L352.35 37.45 L352.60 37.45 L352.85 37.46 L353.11 37.46 L353.36 37.47 L353.62 37.47 L353.87 37.48 L354.12 37.48 L354.38 37.49 L354.63 37.49 L354.88 37.49 L355.14 37.50 L355.39 37.50 L355.64 37.51 L355.90 37.51 L356.15 37.51 L356.41 37.52 L356.66 37.52 L356.91 37.53 L357.17 37.53 L357.42 37.53 L357.67 37.54 L357.93 37.54 L358.18 37.54 L358.43 37.55 L358.69 37.55 L358.94 37.56 L359.20 37.56 L359.45 37.56 L359.70 37.57 L359.96 37.57 L360.21 37.57 L360.46 37.58 L360.72 37.58 L360.97 37.58 L361.22 37.59 L361.48 37.59 L361.73 37.59 L361.99 37.60 L362.24 37.60 L362.49 37.60 L362.75 37.61 L363.00 37.61" stroke="#4094d6" stroke-width="1.2" fill="none" stroke-linejoin="round"/>
</g>
<path d="M260.20 32.40H263.40M261.80 30.80V34.00M260.67 31.27L262.93 33.53M260.67 33.53L262.93 31.27" stroke="#D95319" stroke-width="0.75" fill="none"/>
<path d="M285.50 34.14H288.70M287.10 32.54V35.74M285.97 33.01L288.23 35.27M285.97 35.27L288.23 33.01" stroke="#D95319" stroke-width="0.75" fill="none"/>
<path d="M310.80 35.58H314.00M312.40 33.98V37.18M311.27 34.45L313.53 36.72M311.27 36.72L313.53 34.45" stroke="#D95319" stroke-width="0.75" fill="none"/>
<path d="M336.10 37.03H339.30M337.70 35.43V38.63M336.57 35.90L338.83 38.16M336.57 38.16L338.83 35.90" stroke="#D95319" stroke-width="0.75" fill="none"/>
<path d="M361.40 37.61H364.60M363.00 36.01V39.21M361.87 36.48L364.13 38.74M361.87 38.74L364.13 36.48" stroke="#D95319" stroke-width="0.75" fill="none"/>
<g class="t" font-family="&quot;Liberation Sans&quot;, sans-serif" font-size="5.0" fill="#333333"><text x="260.30" y="16.12" text-anchor="end">10</text><text x="260.30" y="27.12" text-anchor="end">5</text><text x="260.30" y="38.12" text-anchor="end">0</text><text x="260.30" y="49.12" text-anchor="end">-5</text><text x="260.30" y="60.12" text-anchor="end">-10</text><text x="260.30" y="71.13" text-anchor="end">-15</text><text x="260.30" y="82.13" text-anchor="end">-20</text><text x="261.80" y="87.72" text-anchor="middle">478</text><text x="287.10" y="87.72" text-anchor="middle">480</text><text x="312.40" y="87.72" text-anchor="middle">482</text><text x="337.70" y="87.72" text-anchor="middle">484</text><text x="363.00" y="87.72" text-anchor="middle">486</text></g>
<text x="312.40" y="95.82" text-anchor="middle" class="t" font-family="&quot;Liberation Sans&quot;, sans-serif" font-size="5.6" fill="#333333">Freq [MHz]</text>
<text transform="translate(250.75 43.34) rotate(-90)" x="0" y="0" text-anchor="middle" class="t" font-family="&quot;Liberation Sans&quot;, sans-serif" font-size="5.6" fill="#333333">Relative RCS change [dB]</text>
<text x="306.80" y="110.32" text-anchor="middle" font-family="&quot;Liberation Serif&quot;, serif" font-size="9.2" fill="#303030" textLength="38.90" lengthAdjust="spacing">(<tspan font-weight="bold">c</tspan>) Point 3.</text>
<clipPath id="clipd"><rect x="20.85" y="115.00" width="102.20" height="75.60"/></clipPath>
<path d="M46.65 115.20V190.40M71.95 115.20V190.40M97.25 115.20V190.40M21.35 123.19H122.55M21.35 134.11H122.55M21.35 145.04H122.55M21.35 155.96H122.55M21.35 166.88H122.55M21.35 177.80H122.55M21.35 188.72H122.55" stroke="#efefef" stroke-width="0.5" fill="none"/>
<rect x="21.35" y="115.20" width="101.20" height="75.20" fill="none" stroke="#c4c4c4" stroke-width="0.7"/>
<path d="M21.35 123.19h1.1M122.55 123.19h-1.1M21.35 134.11h1.1M122.55 134.11h-1.1M21.35 145.04h1.1M122.55 145.04h-1.1M21.35 155.96h1.1M122.55 155.96h-1.1M21.35 166.88h1.1M122.55 166.88h-1.1M21.35 177.80h1.1M122.55 177.80h-1.1M46.65 190.40v-1.1M46.65 115.20v1.1M71.95 190.40v-1.1M71.95 115.20v1.1M97.25 190.40v-1.1M97.25 115.20v1.1" stroke="#b8b8b8" stroke-width="0.5" fill="none"/>
<g clip-path="url(#clipd)">
<path d="M21.35 145.10H122.55" stroke="#EDB94A" stroke-width="0.9" stroke-dasharray="2.3 2.2" fill="none"/>
<path d="M21.35 144.40H122.55" stroke="#8A4498" stroke-width="0.9" stroke-dasharray="2.3 2.2" fill="none"/>
<path d="M21.35 145.80H122.55" stroke="#85B64A" stroke-width="0.9" stroke-dasharray="2.3 2.2" fill="none"/>
<path d="M21.35 146.16 L21.60 146.17 L21.86 146.17 L22.11 146.17 L22.36 146.17 L22.62 146.17 L22.87 146.18 L23.13 146.18 L23.38 146.18 L23.63 146.18 L23.89 146.19 L24.14 146.19 L24.39 146.19 L24.65 146.19 L24.90 146.20 L25.15 146.20 L25.41 146.20 L25.66 146.20 L25.92 146.21 L26.17 146.21 L26.42 146.21 L26.68 146.21 L26.93 146.22 L27.18 146.22 L27.44 146.22 L27.69 146.22 L27.94 146.22 L28.20 146.23 L28.45 146.23 L28.71 146.23 L28.96 146.23 L29.21 146.24 L29.47 146.24 L29.72 146.24 L29.97 146.24 L30.23 146.25 L30.48 146.25 L30.73 146.25 L30.99 146.26 L31.24 146.26 L31.50 146.26 L31.75 146.26 L32.00 146.27 L32.26 146.27 L32.51 146.27 L32.76 146.27 L33.02 146.28 L33.27 146.28 L33.52 146.28 L33.78 146.28 L34.03 146.29 L34.29 146.29 L34.54 146.29 L34.79 146.30 L35.05 146.30 L35.30 146.30 L35.55 146.30 L35.81 146.31 L36.06 146.31 L36.31 146.31 L36.57 146.32 L36.82 146.32 L37.08 146.32 L37.33 146.32 L37.58 146.33 L37.84 146.33 L38.09 146.33 L38.34 146.34 L38.60 146.34 L38.85 146.34 L39.10 146.35 L39.36 146.35 L39.61 146.35 L39.87 146.36 L40.12 146.36 L40.37 146.36 L40.63 146.37 L40.88 146.37 L41.13 146.37 L41.39 146.38 L41.64 146.38 L41.89 146.38 L42.15 146.39 L42.40 146.39 L42.66 146.39 L42.91 146.40 L43.16 146.40 L43.42 146.40 L43.67 146.41 L43.92 146.41 L44.18 146.41 L44.43 146.42 L44.68 146.42 L44.94 146.43 L45.19 146.43 L45.45 146.43 L45.70 146.44 L45.95 146.44 L46.21 146.45 L46.46 146.45 L46.71 146.45 L46.97 146.46 L47.22 146.46 L47.47 146.47 L47.73 146.47 L47.98 146.47 L48.24 146.48 L48.49 146.48 L48.74 146.49 L49.00 146.49 L49.25 146.50 L49.50 146.50 L49.76 146.50 L50.01 146.51 L50.26 146.51 L50.52 146.52 L50.77 146.52 L51.03 146.52 L51.28 146.53 L51.53 146.53 L51.79 146.54 L52.04 146.54 L52.29 146.54 L52.55 146.55 L52.80 146.55 L53.05 146.56 L53.31 146.56 L53.56 146.56 L53.82 146.57 L54.07 146.57 L54.32 146.57 L54.58 146.58 L54.83 146.58 L55.08 146.58 L55.34 146.59 L55.59 146.59 L55.84 146.59 L56.10 146.60 L56.35 146.60 L56.61 146.60 L56.86 146.61 L57.11 146.61 L57.37 146.61 L57.62 146.61 L57.87 146.62 L58.13 146.62 L58.38 146.62 L58.63 146.62 L58.89 146.62 L59.14 146.62 L59.40 146.63 L59.65 146.63 L59.90 146.63 L60.16 146.63 L60.41 146.63 L60.66 146.63 L60.92 146.63 L61.17 146.63 L61.42 146.63 L61.68 146.63 L61.93 146.63 L62.19 146.63 L62.44 146.63 L62.69 146.63 L62.95 146.63 L63.20 146.63 L63.45 146.63 L63.71 146.63 L63.96 146.62 L64.21 146.62 L64.47 146.62 L64.72 146.62 L64.98 146.62 L65.23 146.61 L65.48 146.61 L65.74 146.61 L65.99 146.60 L66.24 146.60 L66.50 146.60 L66.75 146.59 L67.00 146.59 L67.26 146.58 L67.51 146.58 L67.77 146.57 L68.02 146.57 L68.27 146.56 L68.53 146.56 L68.78 146.55 L69.03 146.55 L69.29 146.54 L69.54 146.53 L69.79 146.53 L70.05 146.52 L70.30 146.51 L70.56 146.50 L70.81 146.49 L71.06 146.49 L71.32 146.48 L71.57 146.47 L71.82 146.46 L72.08 146.45 L72.33 146.44 L72.58 146.43 L72.84 146.42 L73.09 146.41 L73.34 146.39 L73.60 146.38 L73.85 146.37 L74.11 146.36 L74.36 146.35 L74.61 146.33 L74.87 146.32 L75.12 146.31 L75.37 146.29 L75.63 146.28 L75.88 146.26 L76.13 146.25 L76.39 146.23 L76.64 146.22 L76.90 146.20 L77.15 146.19 L77.40 146.17 L77.66 146.16 L77.91 146.14 L78.16 146.12 L78.42 146.11 L78.67 146.09 L78.92 146.07 L79.18 146.05 L79.43 146.03 L79.69 146.02 L79.94 146.00 L80.19 145.98 L80.45 145.96 L80.70 145.94 L80.95 145.92 L81.21 145.90 L81.46 145.88 L81.71 145.86 L81.97 145.84 L82.22 145.81 L82.48 145.79 L82.73 145.77 L82.98 145.75 L83.24 145.73 L83.49 145.70 L83.74 145.68 L84.00 145.66 L84.25 145.64 L84.50 145.61 L84.76 145.59 L85.01 145.56 L85.27 145.54 L85.52 145.52 L85.77 145.49 L86.03 145.47 L86.28 145.44 L86.53 145.41 L86.79 145.39 L87.04 145.36 L87.29 145.34 L87.55 145.31 L87.80 145.28 L88.06 145.26 L88.31 145.23 L88.56 145.20 L88.82 145.17 L89.07 145.15 L89.32 145.12 L89.58 145.09 L89.83 145.06 L90.08 145.03 L90.34 145.00 L90.59 144.98 L90.85 144.95 L91.10 144.92 L91.35 144.89 L91.61 144.86 L91.86 144.83 L92.11 144.80 L92.37 144.77 L92.62 144.73 L92.87 144.70 L93.13 144.67 L93.38 144.64 L93.64 144.61 L93.89 144.58 L94.14 144.55 L94.40 144.51 L94.65 144.48 L94.90 144.45 L95.16 144.42 L95.41 144.38 L95.66 144.35 L95.92 144.32 L96.17 144.28 L96.43 144.25 L96.68 144.21 L96.93 144.18 L97.19 144.15 L97.44 144.11 L97.69 144.08 L97.95 144.04 L98.20 144.01 L98.45 143.97 L98.71 143.94 L98.96 143.90 L99.22 143.86 L99.47 143.83 L99.72 143.79 L99.98 143.76 L100.23 143.72 L100.48 143.68 L100.74 143.65 L100.99 143.61 L101.24 143.57 L101.50 143.53 L101.75 143.50 L102.01 143.46 L102.26 143.42 L102.51 143.38 L102.77 143.35 L103.02 143.31 L103.27 143.27 L103.53 143.23 L103.78 143.19 L104.03 143.15 L104.29 143.11 L104.54 143.08 L104.80 143.04 L105.05 143.00 L105.30 142.96 L105.56 142.92 L105.81 142.88 L106.06 142.84 L106.32 142.80 L106.57 142.76 L106.82 142.72 L107.08 142.68 L107.33 142.64 L107.59 142.60 L107.84 142.56 L108.09 142.52 L108.35 142.48 L108.60 142.44 L108.85 142.39 L109.11 142.35 L109.36 142.31 L109.61 142.27 L109.87 142.23 L110.12 142.19 L110.38 142.15 L110.63 142.11 L110.88 142.06 L111.14 142.02 L111.39 141.98 L111.64 141.94 L111.90 141.90 L112.15 141.85 L112.40 141.81 L112.66 141.77 L112.91 141.73 L113.17 141.68 L113.42 141.64 L113.67 141.60 L113.93 141.56 L114.18 141.51 L114.43 141.47 L114.69 141.43 L114.94 141.39 L115.19 141.34 L115.45 141.30 L115.70 141.26 L115.96 141.21 L116.21 141.17 L116.46 141.13 L116.72 141.08 L116.97 141.04 L117.22 141.00 L117.48 140.95 L117.73 140.91 L117.98 140.87 L118.24 140.82 L118.49 140.78 L118.75 140.74 L119.00 140.69 L119.25 140.65 L119.51 140.61 L119.76 140.56 L120.01 140.52 L120.27 140.48 L120.52 140.43 L120.77 140.39 L121.03 140.35 L121.28 140.30 L121.54 140.26 L121.79 140.21 L122.04 140.17 L122.30 140.13 L122.55 140.08" stroke="#4094d6" stroke-width="1.2" fill="none" stroke-linejoin="round"/>
</g>
<path d="M19.75 146.16H22.95M21.35 144.56V147.76M20.22 145.03L22.48 147.29M20.22 147.29L22.48 145.03" stroke="#D95319" stroke-width="0.75" fill="none"/>
<path d="M45.05 146.45H48.25M46.65 144.85V148.05M45.52 145.32L47.78 147.58M45.52 147.58L47.78 145.32" stroke="#D95319" stroke-width="0.75" fill="none"/>
<path d="M70.35 146.45H73.55M71.95 144.85V148.05M70.82 145.32L73.08 147.58M70.82 147.58L73.08 145.32" stroke="#D95319" stroke-width="0.75" fill="none"/>
<path d="M95.65 144.14H98.85M97.25 142.54V145.74M96.12 143.01L98.38 145.27M96.12 145.27L98.38 143.01" stroke="#D95319" stroke-width="0.75" fill="none"/>
<path d="M120.95 140.08H124.15M122.55 138.48V141.68M121.42 138.95L123.68 141.21M121.42 141.21L123.68 138.95" stroke="#D95319" stroke-width="0.75" fill="none"/>
<g class="t" font-family="&quot;Liberation Sans&quot;, sans-serif" font-size="5.0" fill="#333333"><text x="19.85" y="125.79" text-anchor="end">10</text><text x="19.85" y="136.71" text-anchor="end">5</text><text x="19.85" y="147.64" text-anchor="end">0</text><text x="19.85" y="158.56" text-anchor="end">-5</text><text x="19.85" y="169.48" text-anchor="end">-10</text><text x="19.85" y="180.40" text-anchor="end">-15</text><text x="19.85" y="191.32" text-anchor="end">-20</text><text x="21.35" y="197.70" text-anchor="middle">478</text><text x="46.65" y="197.70" text-anchor="middle">480</text><text x="71.95" y="197.70" text-anchor="middle">482</text><text x="97.25" y="197.70" text-anchor="middle">484</text><text x="122.55" y="197.70" text-anchor="middle">486</text></g>
<text x="71.95" y="205.00" text-anchor="middle" class="t" font-family="&quot;Liberation Sans&quot;, sans-serif" font-size="5.6" fill="#333333">Freq [MHz]</text>
<text transform="translate(10.30 152.80) rotate(-90)" x="0" y="0" text-anchor="middle" class="t" font-family="&quot;Liberation Sans&quot;, sans-serif" font-size="5.6" fill="#333333">Relative RCS change [dB]</text>
<text x="66.35" y="219.50" text-anchor="middle" font-family="&quot;Liberation Serif&quot;, serif" font-size="9.2" fill="#303030" textLength="39.88" lengthAdjust="spacing">(<tspan font-weight="bold">d</tspan>) Point 4.</text>
<clipPath id="clipe"><rect x="141.10" y="115.00" width="102.20" height="75.60"/></clipPath>
<path d="M166.90 115.20V190.40M192.20 115.20V190.40M217.50 115.20V190.40M141.60 123.19H242.80M141.60 134.11H242.80M141.60 145.04H242.80M141.60 155.96H242.80M141.60 166.88H242.80M141.60 177.80H242.80M141.60 188.72H242.80" stroke="#efefef" stroke-width="0.5" fill="none"/>
<rect x="141.60" y="115.20" width="101.20" height="75.20" fill="none" stroke="#c4c4c4" stroke-width="0.7"/>
<path d="M141.60 123.19h1.1M242.80 123.19h-1.1M141.60 134.11h1.1M242.80 134.11h-1.1M141.60 145.04h1.1M242.80 145.04h-1.1M141.60 155.96h1.1M242.80 155.96h-1.1M141.60 166.88h1.1M242.80 166.88h-1.1M141.60 177.80h1.1M242.80 177.80h-1.1M166.90 190.40v-1.1M166.90 115.20v1.1M192.20 190.40v-1.1M192.20 115.20v1.1M217.50 190.40v-1.1M217.50 115.20v1.1" stroke="#b8b8b8" stroke-width="0.5" fill="none"/>
<g clip-path="url(#clipe)">
<path d="M141.60 144.40H242.80" stroke="#EDB94A" stroke-width="0.9" stroke-dasharray="2.3 2.2" fill="none"/>
<path d="M141.60 145.20H242.80" stroke="#8A4498" stroke-width="0.9" stroke-dasharray="2.3 2.2" fill="none"/>
<path d="M141.60 143.50H242.80" stroke="#85B64A" stroke-width="0.9" stroke-dasharray="2.3 2.2" fill="none"/>
<path d="M141.60 148.77 L141.85 148.74 L142.11 148.72 L142.36 148.69 L142.61 148.66 L142.87 148.64 L143.12 148.61 L143.38 148.58 L143.63 148.56 L143.88 148.53 L144.14 148.50 L144.39 148.48 L144.64 148.45 L144.90 148.42 L145.15 148.40 L145.40 148.37 L145.66 148.34 L145.91 148.32 L146.17 148.29 L146.42 148.27 L146.67 148.24 L146.93 148.21 L147.18 148.19 L147.43 148.16 L147.69 148.13 L147.94 148.11 L148.19 148.08 L148.45 148.05 L148.70 148.03 L148.96 148.00 L149.21 147.97 L149.46 147.95 L149.72 147.92 L149.97 147.89 L150.22 147.87 L150.48 147.84 L150.73 147.82 L150.98 147.79 L151.24 147.76 L151.49 147.74 L151.75 147.71 L152.00 147.68 L152.25 147.66 L152.51 147.63 L152.76 147.60 L153.01 147.58 L153.27 147.55 L153.52 147.53 L153.77 147.50 L154.03 147.47 L154.28 147.45 L154.54 147.42 L154.79 147.39 L155.04 147.37 L155.30 147.34 L155.55 147.32 L155.80 147.29 L156.06 147.26 L156.31 147.24 L156.56 147.21 L156.82 147.19 L157.07 147.16 L157.33 147.13 L157.58 147.11 L157.83 147.08 L158.09 147.06 L158.34 147.03 L158.59 147.00 L158.85 146.98 L159.10 146.95 L159.35 146.93 L159.61 146.90 L159.86 146.87 L160.12 146.85 L160.37 146.82 L160.62 146.80 L160.88 146.77 L161.13 146.74 L161.38 146.72 L161.64 146.69 L161.89 146.67 L162.14 146.64 L162.40 146.62 L162.65 146.59 L162.91 146.56 L163.16 146.54 L163.41 146.51 L163.67 146.49 L163.92 146.46 L164.17 146.44 L164.43 146.41 L164.68 146.39 L164.93 146.36 L165.19 146.33 L165.44 146.31 L165.70 146.28 L165.95 146.26 L166.20 146.23 L166.46 146.21 L166.71 146.18 L166.96 146.16 L167.22 146.13 L167.47 146.11 L167.72 146.08 L167.98 146.06 L168.23 146.03 L168.49 146.01 L168.74 145.98 L168.99 145.96 L169.25 145.93 L169.50 145.91 L169.75 145.88 L170.01 145.86 L170.26 145.83 L170.51 145.81 L170.77 145.78 L171.02 145.76 L171.28 145.73 L171.53 145.71 L171.78 145.68 L172.04 145.66 L172.29 145.63 L172.54 145.61 L172.80 145.58 L173.05 145.56 L173.30 145.53 L173.56 145.51 L173.81 145.49 L174.07 145.46 L174.32 145.44 L174.57 145.41 L174.83 145.39 L175.08 145.36 L175.33 145.34 L175.59 145.31 L175.84 145.29 L176.09 145.27 L176.35 145.24 L176.60 145.22 L176.86 145.19 L177.11 145.17 L177.36 145.15 L177.62 145.12 L177.87 145.10 L178.12 145.08 L178.38 145.05 L178.63 145.03 L178.88 145.00 L179.14 144.98 L179.39 144.96 L179.65 144.93 L179.90 144.91 L180.15 144.89 L180.41 144.86 L180.66 144.84 L180.91 144.82 L181.17 144.79 L181.42 144.77 L181.67 144.75 L181.93 144.73 L182.18 144.70 L182.44 144.68 L182.69 144.66 L182.94 144.63 L183.20 144.61 L183.45 144.59 L183.70 144.57 L183.96 144.54 L184.21 144.52 L184.46 144.50 L184.72 144.48 L184.97 144.45 L185.23 144.43 L185.48 144.41 L185.73 144.39 L185.99 144.37 L186.24 144.34 L186.49 144.32 L186.75 144.30 L187.00 144.28 L187.25 144.26 L187.51 144.24 L187.76 144.21 L188.02 144.19 L188.27 144.17 L188.52 144.15 L188.78 144.13 L189.03 144.11 L189.28 144.09 L189.54 144.06 L189.79 144.04 L190.04 144.02 L190.30 144.00 L190.55 143.98 L190.81 143.96 L191.06 143.94 L191.31 143.92 L191.57 143.90 L191.82 143.88 L192.07 143.86 L192.33 143.84 L192.58 143.82 L192.83 143.80 L193.09 143.78 L193.34 143.76 L193.59 143.74 L193.85 143.72 L194.10 143.70 L194.36 143.68 L194.61 143.66 L194.86 143.64 L195.12 143.62 L195.37 143.60 L195.62 143.58 L195.88 143.56 L196.13 143.54 L196.38 143.52 L196.64 143.50 L196.89 143.48 L197.15 143.46 L197.40 143.45 L197.65 143.43 L197.91 143.41 L198.16 143.39 L198.41 143.37 L198.67 143.35 L198.92 143.33 L199.17 143.31 L199.43 143.30 L199.68 143.28 L199.94 143.26 L200.19 143.24 L200.44 143.22 L200.70 143.21 L200.95 143.19 L201.20 143.17 L201.46 143.15 L201.71 143.13 L201.96 143.12 L202.22 143.10 L202.47 143.08 L202.73 143.06 L202.98 143.04 L203.23 143.03 L203.49 143.01 L203.74 142.99 L203.99 142.97 L204.25 142.96 L204.50 142.94 L204.75 142.92 L205.01 142.91 L205.26 142.89 L205.52 142.87 L205.77 142.85 L206.02 142.84 L206.28 142.82 L206.53 142.80 L206.78 142.79 L207.04 142.77 L207.29 142.75 L207.54 142.74 L207.80 142.72 L208.05 142.70 L208.31 142.69 L208.56 142.67 L208.81 142.65 L209.07 142.64 L209.32 142.62 L209.57 142.60 L209.83 142.59 L210.08 142.57 L210.33 142.56 L210.59 142.54 L210.84 142.52 L211.10 142.51 L211.35 142.49 L211.60 142.47 L211.86 142.46 L212.11 142.44 L212.36 142.43 L212.62 142.41 L212.87 142.39 L213.12 142.38 L213.38 142.36 L213.63 142.35 L213.89 142.33 L214.14 142.32 L214.39 142.30 L214.65 142.28 L214.90 142.27 L215.15 142.25 L215.41 142.24 L215.66 142.22 L215.91 142.21 L216.17 142.19 L216.42 142.18 L216.68 142.16 L216.93 142.14 L217.18 142.13 L217.44 142.11 L217.69 142.10 L217.94 142.08 L218.20 142.07 L218.45 142.05 L218.70 142.04 L218.96 142.02 L219.21 142.01 L219.47 141.99 L219.72 141.98 L219.97 141.96 L220.23 141.95 L220.48 141.93 L220.73 141.92 L220.99 141.90 L221.24 141.89 L221.49 141.87 L221.75 141.86 L222.00 141.84 L222.26 141.83 L222.51 141.81 L222.76 141.80 L223.02 141.78 L223.27 141.77 L223.52 141.75 L223.78 141.74 L224.03 141.72 L224.28 141.71 L224.54 141.69 L224.79 141.68 L225.05 141.66 L225.30 141.65 L225.55 141.63 L225.81 141.62 L226.06 141.60 L226.31 141.59 L226.57 141.58 L226.82 141.56 L227.07 141.55 L227.33 141.53 L227.58 141.52 L227.84 141.50 L228.09 141.49 L228.34 141.47 L228.60 141.46 L228.85 141.44 L229.10 141.43 L229.36 141.42 L229.61 141.40 L229.86 141.39 L230.12 141.37 L230.37 141.36 L230.63 141.34 L230.88 141.33 L231.13 141.31 L231.39 141.30 L231.64 141.29 L231.89 141.27 L232.15 141.26 L232.40 141.24 L232.65 141.23 L232.91 141.21 L233.16 141.20 L233.42 141.19 L233.67 141.17 L233.92 141.16 L234.18 141.14 L234.43 141.13 L234.68 141.11 L234.94 141.10 L235.19 141.09 L235.44 141.07 L235.70 141.06 L235.95 141.04 L236.21 141.03 L236.46 141.02 L236.71 141.00 L236.97 140.99 L237.22 140.97 L237.47 140.96 L237.73 140.94 L237.98 140.93 L238.23 140.92 L238.49 140.90 L238.74 140.89 L239.00 140.87 L239.25 140.86 L239.50 140.85 L239.76 140.83 L240.01 140.82 L240.26 140.80 L240.52 140.79 L240.77 140.78 L241.02 140.76 L241.28 140.75 L241.53 140.73 L241.79 140.72 L242.04 140.70 L242.29 140.69 L242.55 140.68 L242.80 140.66" stroke="#4094d6" stroke-width="1.2" fill="none" stroke-linejoin="round"/>
</g>
<path d="M140.00 148.77H143.20M141.60 147.17V150.37M140.47 147.64L142.73 149.90M140.47 149.90L142.73 147.64" stroke="#D95319" stroke-width="0.75" fill="none"/>
<path d="M165.30 146.16H168.50M166.90 144.56V147.76M165.77 145.03L168.03 147.29M165.77 147.29L168.03 145.03" stroke="#D95319" stroke-width="0.75" fill="none"/>
<path d="M190.60 143.85H193.80M192.20 142.25V145.45M191.07 142.72L193.33 144.98M191.07 144.98L193.33 142.72" stroke="#D95319" stroke-width="0.75" fill="none"/>
<path d="M215.90 142.11H219.10M217.50 140.51V143.71M216.37 140.98L218.63 143.24M216.37 143.24L218.63 140.98" stroke="#D95319" stroke-width="0.75" fill="none"/>
<path d="M241.20 140.66H244.40M242.80 139.06V142.26M241.67 139.53L243.93 141.79M241.67 141.79L243.93 139.53" stroke="#D95319" stroke-width="0.75" fill="none"/>
<g class="t" font-family="&quot;Liberation Sans&quot;, sans-serif" font-size="5.0" fill="#333333"><text x="140.10" y="125.79" text-anchor="end">10</text><text x="140.10" y="136.71" text-anchor="end">5</text><text x="140.10" y="147.64" text-anchor="end">0</text><text x="140.10" y="158.56" text-anchor="end">-5</text><text x="140.10" y="169.48" text-anchor="end">-10</text><text x="140.10" y="180.40" text-anchor="end">-15</text><text x="140.10" y="191.32" text-anchor="end">-20</text><text x="141.60" y="197.70" text-anchor="middle">478</text><text x="166.90" y="197.70" text-anchor="middle">480</text><text x="192.20" y="197.70" text-anchor="middle">482</text><text x="217.50" y="197.70" text-anchor="middle">484</text><text x="242.80" y="197.70" text-anchor="middle">486</text></g>
<text x="192.20" y="205.00" text-anchor="middle" class="t" font-family="&quot;Liberation Sans&quot;, sans-serif" font-size="5.6" fill="#333333">Freq [MHz]</text>
<text transform="translate(130.55 152.80) rotate(-90)" x="0" y="0" text-anchor="middle" class="t" font-family="&quot;Liberation Sans&quot;, sans-serif" font-size="5.6" fill="#333333">Relative RCS change [dB]</text>
<text x="186.60" y="219.50" text-anchor="middle" font-family="&quot;Liberation Serif&quot;, serif" font-size="9.2" fill="#303030" textLength="38.90" lengthAdjust="spacing">(<tspan font-weight="bold">e</tspan>) Point 5.</text>
<clipPath id="clipf"><rect x="261.30" y="115.00" width="102.20" height="75.60"/></clipPath>
<path d="M287.10 115.20V190.40M312.40 115.20V190.40M337.70 115.20V190.40M261.80 123.19H363.00M261.80 134.11H363.00M261.80 145.04H363.00M261.80 155.96H363.00M261.80 166.88H363.00M261.80 177.80H363.00M261.80 188.72H363.00" stroke="#efefef" stroke-width="0.5" fill="none"/>
<rect x="261.80" y="115.20" width="101.20" height="75.20" fill="none" stroke="#c4c4c4" stroke-width="0.7"/>
<path d="M261.80 123.19h1.1M363.00 123.19h-1.1M261.80 134.11h1.1M363.00 134.11h-1.1M261.80 145.04h1.1M363.00 145.04h-1.1M261.80 155.96h1.1M363.00 155.96h-1.1M261.80 166.88h1.1M363.00 166.88h-1.1M261.80 177.80h1.1M363.00 177.80h-1.1M287.10 190.40v-1.1M287.10 115.20v1.1M312.40 190.40v-1.1M312.40 115.20v1.1M337.70 190.40v-1.1M337.70 115.20v1.1" stroke="#b8b8b8" stroke-width="0.5" fill="none"/>
<g clip-path="url(#clipf)">
<path d="M261.80 145.30H363.00" stroke="#EDB94A" stroke-width="0.9" stroke-dasharray="2.3 2.2" fill="none"/>
<path d="M261.80 144.40H363.00" stroke="#8A4498" stroke-width="0.9" stroke-dasharray="2.3 2.2" fill="none"/>
<path d="M261.80 146.20H363.00" stroke="#85B64A" stroke-width="0.9" stroke-dasharray="2.3 2.2" fill="none"/>
<path d="M261.80 132.85 L262.05 132.94 L262.31 133.03 L262.56 133.12 L262.81 133.21 L263.07 133.30 L263.32 133.39 L263.58 133.48 L263.83 133.57 L264.08 133.66 L264.34 133.75 L264.59 133.85 L264.84 133.94 L265.10 134.03 L265.35 134.12 L265.60 134.21 L265.86 134.30 L266.11 134.39 L266.37 134.48 L266.62 134.57 L266.87 134.66 L267.13 134.75 L267.38 134.84 L267.63 134.93 L267.89 135.02 L268.14 135.11 L268.39 135.20 L268.65 135.29 L268.90 135.38 L269.16 135.47 L269.41 135.56 L269.66 135.65 L269.92 135.73 L270.17 135.82 L270.42 135.91 L270.68 136.00 L270.93 136.09 L271.18 136.18 L271.44 136.27 L271.69 136.35 L271.95 136.44 L272.20 136.53 L272.45 136.62 L272.71 136.70 L272.96 136.79 L273.21 136.88 L273.47 136.96 L273.72 137.05 L273.97 137.14 L274.23 137.22 L274.48 137.31 L274.74 137.40 L274.99 137.48 L275.24 137.57 L275.50 137.65 L275.75 137.74 L276.00 137.82 L276.26 137.91 L276.51 137.99 L276.76 138.07 L277.02 138.16 L277.27 138.24 L277.53 138.32 L277.78 138.41 L278.03 138.49 L278.29 138.57 L278.54 138.65 L278.79 138.74 L279.05 138.82 L279.30 138.90 L279.55 138.98 L279.81 139.06 L280.06 139.14 L280.32 139.22 L280.57 139.30 L280.82 139.38 L281.08 139.46 L281.33 139.54 L281.58 139.62 L281.84 139.70 L282.09 139.77 L282.34 139.85 L282.60 139.93 L282.85 140.01 L283.11 140.08 L283.36 140.16 L283.61 140.23 L283.87 140.31 L284.12 140.39 L284.37 140.46 L284.63 140.54 L284.88 140.61 L285.13 140.68 L285.39 140.76 L285.64 140.83 L285.90 140.90 L286.15 140.97 L286.40 141.05 L286.66 141.12 L286.91 141.19 L287.16 141.26 L287.42 141.33 L287.67 141.40 L287.92 141.47 L288.18 141.54 L288.43 141.61 L288.69 141.67 L288.94 141.74 L289.19 141.81 L289.45 141.88 L289.70 141.94 L289.95 142.01 L290.21 142.08 L290.46 142.14 L290.71 142.21 L290.97 142.27 L291.22 142.34 L291.48 142.40 L291.73 142.46 L291.98 142.53 L292.24 142.59 L292.49 142.65 L292.74 142.71 L293.00 142.78 L293.25 142.84 L293.50 142.90 L293.76 142.96 L294.01 143.02 L294.27 143.08 L294.52 143.14 L294.77 143.20 L295.03 143.26 L295.28 143.32 L295.53 143.38 L295.79 143.43 L296.04 143.49 L296.29 143.55 L296.55 143.61 L296.80 143.66 L297.06 143.72 L297.31 143.78 L297.56 143.83 L297.82 143.89 L298.07 143.95 L298.32 144.00 L298.58 144.06 L298.83 144.11 L299.08 144.16 L299.34 144.22 L299.59 144.27 L299.85 144.33 L300.10 144.38 L300.35 144.43 L300.61 144.49 L300.86 144.54 L301.11 144.59 L301.37 144.64 L301.62 144.69 L301.87 144.75 L302.13 144.80 L302.38 144.85 L302.64 144.90 L302.89 144.95 L303.14 145.00 L303.40 145.05 L303.65 145.10 L303.90 145.15 L304.16 145.20 L304.41 145.24 L304.66 145.29 L304.92 145.34 L305.17 145.39 L305.43 145.43 L305.68 145.48 L305.93 145.52 L306.19 145.57 L306.44 145.61 L306.69 145.66 L306.95 145.70 L307.20 145.74 L307.45 145.78 L307.71 145.82 L307.96 145.87 L308.22 145.90 L308.47 145.94 L308.72 145.98 L308.98 146.02 L309.23 146.06 L309.48 146.09 L309.74 146.13 L309.99 146.16 L310.24 146.20 L310.50 146.23 L310.75 146.26 L311.01 146.29 L311.26 146.32 L311.51 146.35 L311.77 146.38 L312.02 146.41 L312.27 146.44 L312.53 146.46 L312.78 146.49 L313.03 146.51 L313.29 146.53 L313.54 146.56 L313.79 146.58 L314.05 146.60 L314.30 146.62 L314.56 146.63 L314.81 146.65 L315.06 146.67 L315.32 146.68 L315.57 146.70 L315.82 146.71 L316.08 146.72 L316.33 146.73 L316.58 146.74 L316.84 146.75 L317.09 146.76 L317.35 146.76 L317.60 146.77 L317.85 146.77 L318.11 146.78 L318.36 146.78 L318.61 146.78 L318.87 146.78 L319.12 146.78 L319.37 146.78 L319.63 146.78 L319.88 146.77 L320.14 146.77 L320.39 146.76 L320.64 146.75 L320.90 146.74 L321.15 146.74 L321.40 146.72 L321.66 146.71 L321.91 146.70 L322.16 146.69 L322.42 146.67 L322.67 146.66 L322.93 146.64 L323.18 146.62 L323.43 146.60 L323.69 146.58 L323.94 146.56 L324.19 146.54 L324.45 146.51 L324.70 146.49 L324.95 146.46 L325.21 146.43 L325.46 146.40 L325.72 146.37 L325.97 146.34 L326.22 146.31 L326.48 146.28 L326.73 146.24 L326.98 146.21 L327.24 146.17 L327.49 146.14 L327.74 146.10 L328.00 146.06 L328.25 146.02 L328.51 145.98 L328.76 145.94 L329.01 145.90 L329.27 145.85 L329.52 145.81 L329.77 145.77 L330.03 145.72 L330.28 145.68 L330.53 145.63 L330.79 145.58 L331.04 145.53 L331.30 145.49 L331.55 145.44 L331.80 145.39 L332.06 145.34 L332.31 145.29 L332.56 145.24 L332.82 145.18 L333.07 145.13 L333.32 145.08 L333.58 145.03 L333.83 144.97 L334.09 144.92 L334.34 144.87 L334.59 144.81 L334.85 144.76 L335.10 144.70 L335.35 144.65 L335.61 144.59 L335.86 144.54 L336.11 144.48 L336.37 144.43 L336.62 144.37 L336.88 144.32 L337.13 144.26 L337.38 144.21 L337.64 144.15 L337.89 144.09 L338.14 144.04 L338.40 143.98 L338.65 143.93 L338.90 143.87 L339.16 143.82 L339.41 143.76 L339.67 143.71 L339.92 143.65 L340.17 143.59 L340.43 143.54 L340.68 143.48 L340.93 143.43 L341.19 143.37 L341.44 143.32 L341.69 143.26 L341.95 143.21 L342.20 143.15 L342.46 143.09 L342.71 143.04 L342.96 142.98 L343.22 142.93 L343.47 142.87 L343.72 142.82 L343.98 142.76 L344.23 142.71 L344.48 142.65 L344.74 142.60 L344.99 142.54 L345.25 142.49 L345.50 142.43 L345.75 142.38 L346.01 142.32 L346.26 142.27 L346.51 142.21 L346.77 142.15 L347.02 142.10 L347.27 142.04 L347.53 141.99 L347.78 141.93 L348.04 141.88 L348.29 141.82 L348.54 141.77 L348.80 141.71 L349.05 141.66 L349.30 141.60 L349.56 141.55 L349.81 141.49 L350.06 141.44 L350.32 141.38 L350.57 141.33 L350.83 141.27 L351.08 141.22 L351.33 141.16 L351.59 141.11 L351.84 141.05 L352.09 141.00 L352.35 140.94 L352.60 140.89 L352.85 140.83 L353.11 140.78 L353.36 140.72 L353.62 140.67 L353.87 140.61 L354.12 140.56 L354.38 140.50 L354.63 140.45 L354.88 140.39 L355.14 140.34 L355.39 140.28 L355.64 140.23 L355.90 140.17 L356.15 140.12 L356.41 140.06 L356.66 140.01 L356.91 139.95 L357.17 139.90 L357.42 139.84 L357.67 139.79 L357.93 139.73 L358.18 139.68 L358.43 139.62 L358.69 139.57 L358.94 139.51 L359.20 139.46 L359.45 139.40 L359.70 139.35 L359.96 139.29 L360.21 139.24 L360.46 139.18 L360.72 139.13 L360.97 139.07 L361.22 139.02 L361.48 138.96 L361.73 138.91 L361.99 138.86 L362.24 138.80 L362.49 138.75 L362.75 138.69 L363.00 138.64" stroke="#4094d6" stroke-width="1.2" fill="none" stroke-linejoin="round"/>
</g>
<path d="M260.20 132.85H263.40M261.80 131.25V134.45M260.67 131.71L262.93 133.98M260.67 133.98L262.93 131.71" stroke="#D95319" stroke-width="0.75" fill="none"/>
<path d="M285.50 141.24H288.70M287.10 139.64V142.84M285.97 140.11L288.23 142.37M285.97 142.37L288.23 140.11" stroke="#D95319" stroke-width="0.75" fill="none"/>
<path d="M310.80 146.45H314.00M312.40 144.85V148.05M311.27 145.32L313.53 147.58M311.27 147.58L313.53 145.32" stroke="#D95319" stroke-width="0.75" fill="none"/>
<path d="M336.10 144.14H339.30M337.70 142.54V145.74M336.57 143.01L338.83 145.27M336.57 145.27L338.83 143.01" stroke="#D95319" stroke-width="0.75" fill="none"/>
<path d="M361.40 138.64H364.60M363.00 137.04V140.24M361.87 137.50L364.13 139.77M361.87 139.77L364.13 137.50" stroke="#D95319" stroke-width="0.75" fill="none"/>
<g class="t" font-family="&quot;Liberation Sans&quot;, sans-serif" font-size="5.0" fill="#333333"><text x="260.30" y="125.79" text-anchor="end">10</text><text x="260.30" y="136.71" text-anchor="end">5</text><text x="260.30" y="147.64" text-anchor="end">0</text><text x="260.30" y="158.56" text-anchor="end">-5</text><text x="260.30" y="169.48" text-anchor="end">-10</text><text x="260.30" y="180.40" text-anchor="end">-15</text><text x="260.30" y="191.32" text-anchor="end">-20</text><text x="261.80" y="197.70" text-anchor="middle">478</text><text x="287.10" y="197.70" text-anchor="middle">480</text><text x="312.40" y="197.70" text-anchor="middle">482</text><text x="337.70" y="197.70" text-anchor="middle">484</text><text x="363.00" y="197.70" text-anchor="middle">486</text></g>
<text x="312.40" y="205.00" text-anchor="middle" class="t" font-family="&quot;Liberation Sans&quot;, sans-serif" font-size="5.6" fill="#333333">Freq [MHz]</text>
<text transform="translate(250.75 152.80) rotate(-90)" x="0" y="0" text-anchor="middle" class="t" font-family="&quot;Liberation Sans&quot;, sans-serif" font-size="5.6" fill="#333333">Relative RCS change [dB]</text>
<text x="306.80" y="219.50" text-anchor="middle" font-family="&quot;Liberation Serif&quot;, serif" font-size="9.2" fill="#303030" textLength="37.94" lengthAdjust="spacing">(<tspan font-weight="bold">f</tspan>) Point 6.</text>
<clipPath id="clipg"><rect x="20.85" y="224.20" width="102.20" height="75.50"/></clipPath>
<path d="M46.65 224.40V299.50M71.95 224.40V299.50M97.25 224.40V299.50M21.35 232.38H122.55M21.35 243.29H122.55M21.35 254.20H122.55M21.35 265.10H122.55M21.35 276.01H122.55M21.35 286.91H122.55M21.35 297.82H122.55" stroke="#efefef" stroke-width="0.5" fill="none"/>
<rect x="21.35" y="224.40" width="101.20" height="75.10" fill="none" stroke="#c4c4c4" stroke-width="0.7"/>
<path d="M21.35 232.38h1.1M122.55 232.38h-1.1M21.35 243.29h1.1M122.55 243.29h-1.1M21.35 254.20h1.1M122.55 254.20h-1.1M21.35 265.10h1.1M122.55 265.10h-1.1M21.35 276.01h1.1M122.55 276.01h-1.1M21.35 286.91h1.1M122.55 286.91h-1.1M46.65 299.50v-1.1M46.65 224.40v1.1M71.95 299.50v-1.1M71.95 224.40v1.1M97.25 299.50v-1.1M97.25 224.40v1.1" stroke="#b8b8b8" stroke-width="0.5" fill="none"/>
<g clip-path="url(#clipg)">
<path d="M21.35 254.00H122.55" stroke="#EDB94A" stroke-width="0.9" stroke-dasharray="2.3 2.2" fill="none"/>
<path d="M21.35 254.60H122.55" stroke="#8A4498" stroke-width="0.9" stroke-dasharray="2.3 2.2" fill="none"/>
<path d="M21.35 253.40H122.55" stroke="#85B64A" stroke-width="0.9" stroke-dasharray="2.3 2.2" fill="none"/>
<path d="M21.35 258.93 L21.60 258.89 L21.86 258.86 L22.11 258.82 L22.36 258.79 L22.62 258.75 L22.87 258.72 L23.13 258.69 L23.38 258.65 L23.63 258.62 L23.89 258.58 L24.14 258.55 L24.39 258.51 L24.65 258.48 L24.90 258.45 L25.15 258.41 L25.41 258.38 L25.66 258.34 L25.92 258.31 L26.17 258.27 L26.42 258.24 L26.68 258.21 L26.93 258.17 L27.18 258.14 L27.44 258.10 L27.69 258.07 L27.94 258.04 L28.20 258.00 L28.45 257.97 L28.71 257.93 L28.96 257.90 L29.21 257.87 L29.47 257.83 L29.72 257.80 L29.97 257.77 L30.23 257.73 L30.48 257.70 L30.73 257.66 L30.99 257.63 L31.24 257.60 L31.50 257.56 L31.75 257.53 L32.00 257.50 L32.26 257.47 L32.51 257.43 L32.76 257.40 L33.02 257.37 L33.27 257.33 L33.52 257.30 L33.78 257.27 L34.03 257.24 L34.29 257.20 L34.54 257.17 L34.79 257.14 L35.05 257.11 L35.30 257.07 L35.55 257.04 L35.81 257.01 L36.06 256.98 L36.31 256.95 L36.57 256.91 L36.82 256.88 L37.08 256.85 L37.33 256.82 L37.58 256.79 L37.84 256.76 L38.09 256.73 L38.34 256.69 L38.60 256.66 L38.85 256.63 L39.10 256.60 L39.36 256.57 L39.61 256.54 L39.87 256.51 L40.12 256.48 L40.37 256.45 L40.63 256.42 L40.88 256.39 L41.13 256.36 L41.39 256.33 L41.64 256.30 L41.89 256.27 L42.15 256.24 L42.40 256.21 L42.66 256.18 L42.91 256.15 L43.16 256.13 L43.42 256.10 L43.67 256.07 L43.92 256.04 L44.18 256.01 L44.43 255.98 L44.68 255.95 L44.94 255.93 L45.19 255.90 L45.45 255.87 L45.70 255.84 L45.95 255.82 L46.21 255.79 L46.46 255.76 L46.71 255.74 L46.97 255.71 L47.22 255.68 L47.47 255.66 L47.73 255.63 L47.98 255.60 L48.24 255.58 L48.49 255.55 L48.74 255.53 L49.00 255.50 L49.25 255.47 L49.50 255.45 L49.76 255.42 L50.01 255.40 L50.26 255.37 L50.52 255.35 L50.77 255.32 L51.03 255.30 L51.28 255.28 L51.53 255.25 L51.79 255.23 L52.04 255.20 L52.29 255.18 L52.55 255.15 L52.80 255.13 L53.05 255.11 L53.31 255.08 L53.56 255.06 L53.82 255.04 L54.07 255.01 L54.32 254.99 L54.58 254.97 L54.83 254.94 L55.08 254.92 L55.34 254.90 L55.59 254.87 L55.84 254.85 L56.10 254.83 L56.35 254.80 L56.61 254.78 L56.86 254.76 L57.11 254.74 L57.37 254.71 L57.62 254.69 L57.87 254.67 L58.13 254.65 L58.38 254.62 L58.63 254.60 L58.89 254.58 L59.14 254.56 L59.40 254.54 L59.65 254.51 L59.90 254.49 L60.16 254.47 L60.41 254.45 L60.66 254.42 L60.92 254.40 L61.17 254.38 L61.42 254.36 L61.68 254.34 L61.93 254.31 L62.19 254.29 L62.44 254.27 L62.69 254.25 L62.95 254.23 L63.20 254.20 L63.45 254.18 L63.71 254.16 L63.96 254.14 L64.21 254.12 L64.47 254.09 L64.72 254.07 L64.98 254.05 L65.23 254.03 L65.48 254.01 L65.74 253.98 L65.99 253.96 L66.24 253.94 L66.50 253.92 L66.75 253.89 L67.00 253.87 L67.26 253.85 L67.51 253.83 L67.77 253.81 L68.02 253.78 L68.27 253.76 L68.53 253.74 L68.78 253.71 L69.03 253.69 L69.29 253.67 L69.54 253.65 L69.79 253.62 L70.05 253.60 L70.30 253.58 L70.56 253.55 L70.81 253.53 L71.06 253.51 L71.32 253.48 L71.57 253.46 L71.82 253.44 L72.08 253.41 L72.33 253.39 L72.58 253.37 L72.84 253.34 L73.09 253.32 L73.34 253.30 L73.60 253.27 L73.85 253.25 L74.11 253.22 L74.36 253.20 L74.61 253.17 L74.87 253.15 L75.12 253.13 L75.37 253.10 L75.63 253.08 L75.88 253.05 L76.13 253.03 L76.39 253.00 L76.64 252.98 L76.90 252.95 L77.15 252.93 L77.40 252.90 L77.66 252.88 L77.91 252.85 L78.16 252.83 L78.42 252.80 L78.67 252.78 L78.92 252.75 L79.18 252.73 L79.43 252.70 L79.69 252.68 L79.94 252.65 L80.19 252.63 L80.45 252.61 L80.70 252.58 L80.95 252.56 L81.21 252.53 L81.46 252.51 L81.71 252.48 L81.97 252.46 L82.22 252.43 L82.48 252.41 L82.73 252.38 L82.98 252.36 L83.24 252.33 L83.49 252.31 L83.74 252.28 L84.00 252.26 L84.25 252.23 L84.50 252.21 L84.76 252.19 L85.01 252.16 L85.27 252.14 L85.52 252.11 L85.77 252.09 L86.03 252.06 L86.28 252.04 L86.53 252.02 L86.79 251.99 L87.04 251.97 L87.29 251.94 L87.55 251.92 L87.80 251.90 L88.06 251.87 L88.31 251.85 L88.56 251.83 L88.82 251.80 L89.07 251.78 L89.32 251.76 L89.58 251.74 L89.83 251.71 L90.08 251.69 L90.34 251.67 L90.59 251.65 L90.85 251.62 L91.10 251.60 L91.35 251.58 L91.61 251.56 L91.86 251.54 L92.11 251.51 L92.37 251.49 L92.62 251.47 L92.87 251.45 L93.13 251.43 L93.38 251.41 L93.64 251.39 L93.89 251.37 L94.14 251.35 L94.40 251.33 L94.65 251.31 L94.90 251.29 L95.16 251.27 L95.41 251.25 L95.66 251.23 L95.92 251.21 L96.17 251.19 L96.43 251.17 L96.68 251.15 L96.93 251.13 L97.19 251.11 L97.44 251.10 L97.69 251.08 L97.95 251.06 L98.20 251.04 L98.45 251.03 L98.71 251.01 L98.96 250.99 L99.22 250.98 L99.47 250.96 L99.72 250.94 L99.98 250.93 L100.23 250.91 L100.48 250.89 L100.74 250.88 L100.99 250.86 L101.24 250.85 L101.50 250.83 L101.75 250.82 L102.01 250.80 L102.26 250.79 L102.51 250.77 L102.77 250.76 L103.02 250.74 L103.27 250.73 L103.53 250.72 L103.78 250.70 L104.03 250.69 L104.29 250.68 L104.54 250.66 L104.80 250.65 L105.05 250.64 L105.30 250.62 L105.56 250.61 L105.81 250.60 L106.06 250.58 L106.32 250.57 L106.57 250.56 L106.82 250.55 L107.08 250.54 L107.33 250.52 L107.59 250.51 L107.84 250.50 L108.09 250.49 L108.35 250.48 L108.60 250.47 L108.85 250.45 L109.11 250.44 L109.36 250.43 L109.61 250.42 L109.87 250.41 L110.12 250.40 L110.38 250.39 L110.63 250.38 L110.88 250.37 L111.14 250.36 L111.39 250.35 L111.64 250.34 L111.90 250.33 L112.15 250.32 L112.40 250.31 L112.66 250.30 L112.91 250.29 L113.17 250.28 L113.42 250.27 L113.67 250.26 L113.93 250.25 L114.18 250.24 L114.43 250.23 L114.69 250.22 L114.94 250.21 L115.19 250.20 L115.45 250.19 L115.70 250.18 L115.96 250.17 L116.21 250.17 L116.46 250.16 L116.72 250.15 L116.97 250.14 L117.22 250.13 L117.48 250.12 L117.73 250.11 L117.98 250.10 L118.24 250.10 L118.49 250.09 L118.75 250.08 L119.00 250.07 L119.25 250.06 L119.51 250.05 L119.76 250.04 L120.01 250.04 L120.27 250.03 L120.52 250.02 L120.77 250.01 L121.03 250.00 L121.28 249.99 L121.54 249.99 L121.79 249.98 L122.04 249.97 L122.30 249.96 L122.55 249.95" stroke="#4094d6" stroke-width="1.2" fill="none" stroke-linejoin="round"/>
</g>
<path d="M19.75 258.93H22.95M21.35 257.33V260.53M20.22 257.80L22.48 260.06M20.22 260.06L22.48 257.80" stroke="#D95319" stroke-width="0.75" fill="none"/>
<path d="M45.05 255.74H48.25M46.65 254.14V257.34M45.52 254.61L47.78 256.87M45.52 256.87L47.78 254.61" stroke="#D95319" stroke-width="0.75" fill="none"/>
<path d="M70.35 253.43H73.55M71.95 251.83V255.03M70.82 252.29L73.08 254.56M70.82 254.56L73.08 252.29" stroke="#D95319" stroke-width="0.75" fill="none"/>
<path d="M95.65 251.11H98.85M97.25 249.51V252.71M96.12 249.98L98.38 252.24M96.12 252.24L98.38 249.98" stroke="#D95319" stroke-width="0.75" fill="none"/>
<path d="M120.95 249.95H124.15M122.55 248.35V251.55M121.42 248.82L123.68 251.08M121.42 251.08L123.68 248.82" stroke="#D95319" stroke-width="0.75" fill="none"/>
<g class="t" font-family="&quot;Liberation Sans&quot;, sans-serif" font-size="5.0" fill="#333333"><text x="19.85" y="234.98" text-anchor="end">10</text><text x="19.85" y="245.89" text-anchor="end">5</text><text x="19.85" y="256.80" text-anchor="end">0</text><text x="19.85" y="267.70" text-anchor="end">-5</text><text x="19.85" y="278.61" text-anchor="end">-10</text><text x="19.85" y="289.51" text-anchor="end">-15</text><text x="19.85" y="300.42" text-anchor="end">-20</text><text x="21.35" y="306.80" text-anchor="middle">478</text><text x="46.65" y="306.80" text-anchor="middle">480</text><text x="71.95" y="306.80" text-anchor="middle">482</text><text x="97.25" y="306.80" text-anchor="middle">484</text><text x="122.55" y="306.80" text-anchor="middle">486</text></g>
<text x="71.95" y="314.10" text-anchor="middle" class="t" font-family="&quot;Liberation Sans&quot;, sans-serif" font-size="5.6" fill="#333333">Freq [MHz]</text>
<text transform="translate(10.30 261.95) rotate(-90)" x="0" y="0" text-anchor="middle" class="t" font-family="&quot;Liberation Sans&quot;, sans-serif" font-size="5.6" fill="#333333">Relative RCS change [dB]</text>
<text x="66.35" y="328.60" text-anchor="middle" font-family="&quot;Liberation Serif&quot;, serif" font-size="9.2" fill="#303030" textLength="39.39" lengthAdjust="spacing">(<tspan font-weight="bold">g</tspan>) Point 7.</text>
<clipPath id="cliph"><rect x="141.10" y="224.20" width="102.20" height="75.50"/></clipPath>
<path d="M166.90 224.40V299.50M192.20 224.40V299.50M217.50 224.40V299.50M141.60 232.38H242.80M141.60 243.29H242.80M141.60 254.20H242.80M141.60 265.10H242.80M141.60 276.01H242.80M141.60 286.91H242.80M141.60 297.82H242.80" stroke="#efefef" stroke-width="0.5" fill="none"/>
<rect x="141.60" y="224.40" width="101.20" height="75.10" fill="none" stroke="#c4c4c4" stroke-width="0.7"/>
<path d="M141.60 232.38h1.1M242.80 232.38h-1.1M141.60 243.29h1.1M242.80 243.29h-1.1M141.60 254.20h1.1M242.80 254.20h-1.1M141.60 265.10h1.1M242.80 265.10h-1.1M141.60 276.01h1.1M242.80 276.01h-1.1M141.60 286.91h1.1M242.80 286.91h-1.1M166.90 299.50v-1.1M166.90 224.40v1.1M192.20 299.50v-1.1M192.20 224.40v1.1M217.50 299.50v-1.1M217.50 224.40v1.1" stroke="#b8b8b8" stroke-width="0.5" fill="none"/>
<g clip-path="url(#cliph)">
<path d="M141.60 254.00H242.80" stroke="#EDB94A" stroke-width="0.9" stroke-dasharray="2.3 2.2" fill="none"/>
<path d="M141.60 254.60H242.80" stroke="#8A4498" stroke-width="0.9" stroke-dasharray="2.3 2.2" fill="none"/>
<path d="M141.60 253.40H242.80" stroke="#85B64A" stroke-width="0.9" stroke-dasharray="2.3 2.2" fill="none"/>
<path d="M141.60 250.24 L141.85 250.27 L142.11 250.30 L142.36 250.32 L142.61 250.35 L142.87 250.38 L143.12 250.41 L143.38 250.43 L143.63 250.46 L143.88 250.49 L144.14 250.52 L144.39 250.54 L144.64 250.57 L144.90 250.60 L145.15 250.63 L145.40 250.65 L145.66 250.68 L145.91 250.71 L146.17 250.74 L146.42 250.76 L146.67 250.79 L146.93 250.82 L147.18 250.84 L147.43 250.87 L147.69 250.90 L147.94 250.92 L148.19 250.95 L148.45 250.98 L148.70 251.00 L148.96 251.03 L149.21 251.06 L149.46 251.08 L149.72 251.11 L149.97 251.14 L150.22 251.16 L150.48 251.19 L150.73 251.21 L150.98 251.24 L151.24 251.27 L151.49 251.29 L151.75 251.32 L152.00 251.34 L152.25 251.37 L152.51 251.39 L152.76 251.42 L153.01 251.44 L153.27 251.47 L153.52 251.49 L153.77 251.52 L154.03 251.54 L154.28 251.57 L154.54 251.59 L154.79 251.61 L155.04 251.64 L155.30 251.66 L155.55 251.69 L155.80 251.71 L156.06 251.73 L156.31 251.76 L156.56 251.78 L156.82 251.80 L157.07 251.82 L157.33 251.85 L157.58 251.87 L157.83 251.89 L158.09 251.91 L158.34 251.94 L158.59 251.96 L158.85 251.98 L159.10 252.00 L159.35 252.02 L159.61 252.04 L159.86 252.06 L160.12 252.08 L160.37 252.10 L160.62 252.12 L160.88 252.14 L161.13 252.16 L161.38 252.18 L161.64 252.20 L161.89 252.22 L162.14 252.24 L162.40 252.26 L162.65 252.28 L162.91 252.30 L163.16 252.32 L163.41 252.33 L163.67 252.35 L163.92 252.37 L164.17 252.39 L164.43 252.40 L164.68 252.42 L164.93 252.44 L165.19 252.45 L165.44 252.47 L165.70 252.49 L165.95 252.50 L166.20 252.52 L166.46 252.53 L166.71 252.55 L166.96 252.56 L167.22 252.58 L167.47 252.59 L167.72 252.60 L167.98 252.62 L168.23 252.63 L168.49 252.64 L168.74 252.66 L168.99 252.67 L169.25 252.68 L169.50 252.69 L169.75 252.70 L170.01 252.72 L170.26 252.73 L170.51 252.74 L170.77 252.75 L171.02 252.76 L171.28 252.77 L171.53 252.78 L171.78 252.79 L172.04 252.80 L172.29 252.81 L172.54 252.82 L172.80 252.83 L173.05 252.84 L173.30 252.85 L173.56 252.86 L173.81 252.86 L174.07 252.87 L174.32 252.88 L174.57 252.89 L174.83 252.90 L175.08 252.90 L175.33 252.91 L175.59 252.92 L175.84 252.93 L176.09 252.93 L176.35 252.94 L176.60 252.95 L176.86 252.95 L177.11 252.96 L177.36 252.96 L177.62 252.97 L177.87 252.98 L178.12 252.98 L178.38 252.99 L178.63 252.99 L178.88 253.00 L179.14 253.00 L179.39 253.01 L179.65 253.01 L179.90 253.02 L180.15 253.02 L180.41 253.03 L180.66 253.03 L180.91 253.03 L181.17 253.04 L181.42 253.04 L181.67 253.05 L181.93 253.05 L182.18 253.05 L182.44 253.06 L182.69 253.06 L182.94 253.06 L183.20 253.07 L183.45 253.07 L183.70 253.07 L183.96 253.07 L184.21 253.08 L184.46 253.08 L184.72 253.08 L184.97 253.09 L185.23 253.09 L185.48 253.09 L185.73 253.09 L185.99 253.09 L186.24 253.10 L186.49 253.10 L186.75 253.10 L187.00 253.10 L187.25 253.11 L187.51 253.11 L187.76 253.11 L188.02 253.11 L188.27 253.11 L188.52 253.11 L188.78 253.12 L189.03 253.12 L189.28 253.12 L189.54 253.12 L189.79 253.12 L190.04 253.12 L190.30 253.13 L190.55 253.13 L190.81 253.13 L191.06 253.13 L191.31 253.13 L191.57 253.13 L191.82 253.13 L192.07 253.14 L192.33 253.14 L192.58 253.14 L192.83 253.14 L193.09 253.14 L193.34 253.14 L193.59 253.14 L193.85 253.15 L194.10 253.15 L194.36 253.15 L194.61 253.15 L194.86 253.15 L195.12 253.15 L195.37 253.16 L195.62 253.16 L195.88 253.16 L196.13 253.16 L196.38 253.16 L196.64 253.16 L196.89 253.17 L197.15 253.17 L197.40 253.17 L197.65 253.17 L197.91 253.17 L198.16 253.18 L198.41 253.18 L198.67 253.18 L198.92 253.18 L199.17 253.19 L199.43 253.19 L199.68 253.19 L199.94 253.19 L200.19 253.20 L200.44 253.20 L200.70 253.20 L200.95 253.20 L201.20 253.21 L201.46 253.21 L201.71 253.21 L201.96 253.22 L202.22 253.22 L202.47 253.22 L202.73 253.23 L202.98 253.23 L203.23 253.24 L203.49 253.24 L203.74 253.24 L203.99 253.25 L204.25 253.25 L204.50 253.26 L204.75 253.26 L205.01 253.27 L205.26 253.27 L205.52 253.28 L205.77 253.28 L206.02 253.29 L206.28 253.29 L206.53 253.30 L206.78 253.30 L207.04 253.31 L207.29 253.32 L207.54 253.32 L207.80 253.33 L208.05 253.33 L208.31 253.34 L208.56 253.35 L208.81 253.35 L209.07 253.36 L209.32 253.37 L209.57 253.38 L209.83 253.38 L210.08 253.39 L210.33 253.40 L210.59 253.41 L210.84 253.42 L211.10 253.43 L211.35 253.43 L211.60 253.44 L211.86 253.45 L212.11 253.46 L212.36 253.47 L212.62 253.48 L212.87 253.49 L213.12 253.50 L213.38 253.51 L213.63 253.52 L213.89 253.53 L214.14 253.55 L214.39 253.56 L214.65 253.57 L214.90 253.58 L215.15 253.59 L215.41 253.60 L215.66 253.62 L215.91 253.63 L216.17 253.64 L216.42 253.66 L216.68 253.67 L216.93 253.68 L217.18 253.70 L217.44 253.71 L217.69 253.73 L217.94 253.74 L218.20 253.76 L218.45 253.77 L218.70 253.79 L218.96 253.80 L219.21 253.82 L219.47 253.84 L219.72 253.85 L219.97 253.87 L220.23 253.89 L220.48 253.90 L220.73 253.92 L220.99 253.94 L221.24 253.96 L221.49 253.98 L221.75 253.99 L222.00 254.01 L222.26 254.03 L222.51 254.05 L222.76 254.07 L223.02 254.09 L223.27 254.11 L223.52 254.13 L223.78 254.15 L224.03 254.17 L224.28 254.19 L224.54 254.21 L224.79 254.23 L225.05 254.25 L225.30 254.27 L225.55 254.29 L225.81 254.32 L226.06 254.34 L226.31 254.36 L226.57 254.38 L226.82 254.40 L227.07 254.43 L227.33 254.45 L227.58 254.47 L227.84 254.49 L228.09 254.52 L228.34 254.54 L228.60 254.56 L228.85 254.59 L229.10 254.61 L229.36 254.64 L229.61 254.66 L229.86 254.68 L230.12 254.71 L230.37 254.73 L230.63 254.76 L230.88 254.78 L231.13 254.81 L231.39 254.83 L231.64 254.86 L231.89 254.88 L232.15 254.91 L232.40 254.93 L232.65 254.96 L232.91 254.98 L233.16 255.01 L233.42 255.03 L233.67 255.06 L233.92 255.09 L234.18 255.11 L234.43 255.14 L234.68 255.16 L234.94 255.19 L235.19 255.22 L235.44 255.24 L235.70 255.27 L235.95 255.30 L236.21 255.32 L236.46 255.35 L236.71 255.38 L236.97 255.40 L237.22 255.43 L237.47 255.46 L237.73 255.48 L237.98 255.51 L238.23 255.54 L238.49 255.57 L238.74 255.59 L239.00 255.62 L239.25 255.65 L239.50 255.67 L239.76 255.70 L240.01 255.73 L240.26 255.76 L240.52 255.78 L240.77 255.81 L241.02 255.84 L241.28 255.87 L241.53 255.89 L241.79 255.92 L242.04 255.95 L242.29 255.98 L242.55 256.00 L242.80 256.03" stroke="#4094d6" stroke-width="1.2" fill="none" stroke-linejoin="round"/>
</g>
<path d="M140.00 250.24H143.20M141.60 248.64V251.84M140.47 249.11L142.73 251.37M140.47 251.37L142.73 249.11" stroke="#D95319" stroke-width="0.75" fill="none"/>
<path d="M165.30 252.56H168.50M166.90 250.96V254.16M165.77 251.43L168.03 253.69M165.77 253.69L168.03 251.43" stroke="#D95319" stroke-width="0.75" fill="none"/>
<path d="M190.60 253.14H193.80M192.20 251.54V254.74M191.07 252.01L193.33 254.27M191.07 254.27L193.33 252.01" stroke="#D95319" stroke-width="0.75" fill="none"/>
<path d="M215.90 253.72H219.10M217.50 252.12V255.32M216.37 252.58L218.63 254.85M216.37 254.85L218.63 252.58" stroke="#D95319" stroke-width="0.75" fill="none"/>
<path d="M241.20 256.03H244.40M242.80 254.43V257.63M241.67 254.90L243.93 257.16M241.67 257.16L243.93 254.90" stroke="#D95319" stroke-width="0.75" fill="none"/>
<g class="t" font-family="&quot;Liberation Sans&quot;, sans-serif" font-size="5.0" fill="#333333"><text x="140.10" y="234.98" text-anchor="end">10</text><text x="140.10" y="245.89" text-anchor="end">5</text><text x="140.10" y="256.80" text-anchor="end">0</text><text x="140.10" y="267.70" text-anchor="end">-5</text><text x="140.10" y="278.61" text-anchor="end">-10</text><text x="140.10" y="289.51" text-anchor="end">-15</text><text x="140.10" y="300.42" text-anchor="end">-20</text><text x="141.60" y="306.80" text-anchor="middle">478</text><text x="166.90" y="306.80" text-anchor="middle">480</text><text x="192.20" y="306.80" text-anchor="middle">482</text><text x="217.50" y="306.80" text-anchor="middle">484</text><text x="242.80" y="306.80" text-anchor="middle">486</text></g>
<text x="192.20" y="314.10" text-anchor="middle" class="t" font-family="&quot;Liberation Sans&quot;, sans-serif" font-size="5.6" fill="#333333">Freq [MHz]</text>
<text transform="translate(130.55 261.95) rotate(-90)" x="0" y="0" text-anchor="middle" class="t" font-family="&quot;Liberation Sans&quot;, sans-serif" font-size="5.6" fill="#333333">Relative RCS change [dB]</text>
<text x="186.60" y="328.60" text-anchor="middle" font-family="&quot;Liberation Serif&quot;, serif" font-size="9.2" fill="#303030" textLength="39.88" lengthAdjust="spacing">(<tspan font-weight="bold">h</tspan>) Point 8.</text>
<clipPath id="clipi"><rect x="261.30" y="224.20" width="102.20" height="75.50"/></clipPath>
<path d="M287.10 224.40V299.50M312.40 224.40V299.50M337.70 224.40V299.50M261.80 232.38H363.00M261.80 243.29H363.00M261.80 254.20H363.00M261.80 265.10H363.00M261.80 276.01H363.00M261.80 286.91H363.00M261.80 297.82H363.00" stroke="#efefef" stroke-width="0.5" fill="none"/>
<rect x="261.80" y="224.40" width="101.20" height="75.10" fill="none" stroke="#c4c4c4" stroke-width="0.7"/>
<path d="M261.80 232.38h1.1M363.00 232.38h-1.1M261.80 243.29h1.1M363.00 243.29h-1.1M261.80 254.20h1.1M363.00 254.20h-1.1M261.80 265.10h1.1M363.00 265.10h-1.1M261.80 276.01h1.1M363.00 276.01h-1.1M261.80 286.91h1.1M363.00 286.91h-1.1M287.10 299.50v-1.1M287.10 224.40v1.1M312.40 299.50v-1.1M312.40 224.40v1.1M337.70 299.50v-1.1M337.70 224.40v1.1" stroke="#b8b8b8" stroke-width="0.5" fill="none"/>
<g clip-path="url(#clipi)">
<path d="M261.80 253.90H363.00" stroke="#EDB94A" stroke-width="0.9" stroke-dasharray="2.3 2.2" fill="none"/>
<path d="M261.80 254.40H363.00" stroke="#8A4498" stroke-width="0.9" stroke-dasharray="2.3 2.2" fill="none"/>
<path d="M261.80 253.40H363.00" stroke="#85B64A" stroke-width="0.9" stroke-dasharray="2.3 2.2" fill="none"/>
<path d="M261.80 241.60 L262.05 241.64 L262.31 241.68 L262.56 241.72 L262.81 241.75 L263.07 241.79 L263.32 241.83 L263.58 241.87 L263.83 241.91 L264.08 241.95 L264.34 241.99 L264.59 242.03 L264.84 242.07 L265.10 242.11 L265.35 242.15 L265.60 242.19 L265.86 242.23 L266.11 242.27 L266.37 242.31 L266.62 242.35 L266.87 242.39 L267.13 242.43 L267.38 242.47 L267.63 242.51 L267.89 242.55 L268.14 242.59 L268.39 242.63 L268.65 242.67 L268.90 242.72 L269.16 242.76 L269.41 242.80 L269.66 242.84 L269.92 242.88 L270.17 242.92 L270.42 242.97 L270.68 243.01 L270.93 243.05 L271.18 243.09 L271.44 243.13 L271.69 243.18 L271.95 243.22 L272.20 243.26 L272.45 243.31 L272.71 243.35 L272.96 243.39 L273.21 243.44 L273.47 243.48 L273.72 243.52 L273.97 243.57 L274.23 243.61 L274.48 243.66 L274.74 243.70 L274.99 243.74 L275.24 243.79 L275.50 243.83 L275.75 243.88 L276.00 243.92 L276.26 243.97 L276.51 244.02 L276.76 244.06 L277.02 244.11 L277.27 244.15 L277.53 244.20 L277.78 244.25 L278.03 244.29 L278.29 244.34 L278.54 244.39 L278.79 244.43 L279.05 244.48 L279.30 244.53 L279.55 244.58 L279.81 244.62 L280.06 244.67 L280.32 244.72 L280.57 244.77 L280.82 244.82 L281.08 244.87 L281.33 244.92 L281.58 244.97 L281.84 245.02 L282.09 245.07 L282.34 245.12 L282.60 245.17 L282.85 245.22 L283.11 245.27 L283.36 245.32 L283.61 245.37 L283.87 245.42 L284.12 245.47 L284.37 245.52 L284.63 245.58 L284.88 245.63 L285.13 245.68 L285.39 245.74 L285.64 245.79 L285.90 245.84 L286.15 245.90 L286.40 245.95 L286.66 246.00 L286.91 246.06 L287.16 246.11 L287.42 246.17 L287.67 246.22 L287.92 246.28 L288.18 246.34 L288.43 246.39 L288.69 246.45 L288.94 246.51 L289.19 246.56 L289.45 246.62 L289.70 246.68 L289.95 246.74 L290.21 246.79 L290.46 246.85 L290.71 246.91 L290.97 246.97 L291.22 247.03 L291.48 247.09 L291.73 247.15 L291.98 247.21 L292.24 247.27 L292.49 247.33 L292.74 247.39 L293.00 247.46 L293.25 247.52 L293.50 247.58 L293.76 247.64 L294.01 247.71 L294.27 247.77 L294.52 247.83 L294.77 247.90 L295.03 247.96 L295.28 248.03 L295.53 248.09 L295.79 248.16 L296.04 248.22 L296.29 248.29 L296.55 248.36 L296.80 248.42 L297.06 248.49 L297.31 248.56 L297.56 248.62 L297.82 248.69 L298.07 248.76 L298.32 248.83 L298.58 248.90 L298.83 248.97 L299.08 249.04 L299.34 249.11 L299.59 249.18 L299.85 249.25 L300.10 249.32 L300.35 249.39 L300.61 249.47 L300.86 249.54 L301.11 249.61 L301.37 249.68 L301.62 249.76 L301.87 249.83 L302.13 249.91 L302.38 249.98 L302.64 250.06 L302.89 250.13 L303.14 250.21 L303.40 250.29 L303.65 250.36 L303.90 250.44 L304.16 250.52 L304.41 250.60 L304.66 250.67 L304.92 250.75 L305.17 250.83 L305.43 250.91 L305.68 250.99 L305.93 251.07 L306.19 251.16 L306.44 251.24 L306.69 251.32 L306.95 251.40 L307.20 251.49 L307.45 251.57 L307.71 251.65 L307.96 251.74 L308.22 251.82 L308.47 251.91 L308.72 252.00 L308.98 252.08 L309.23 252.17 L309.48 252.26 L309.74 252.34 L309.99 252.43 L310.24 252.52 L310.50 252.61 L310.75 252.70 L311.01 252.79 L311.26 252.88 L311.51 252.97 L311.77 253.07 L312.02 253.16 L312.27 253.25 L312.53 253.35 L312.78 253.44 L313.03 253.54 L313.29 253.63 L313.54 253.73 L313.79 253.82 L314.05 253.92 L314.30 254.02 L314.56 254.12 L314.81 254.22 L315.06 254.32 L315.32 254.42 L315.57 254.52 L315.82 254.62 L316.08 254.72 L316.33 254.82 L316.58 254.93 L316.84 255.03 L317.09 255.14 L317.35 255.24 L317.60 255.35 L317.85 255.45 L318.11 255.56 L318.36 255.67 L318.61 255.77 L318.87 255.88 L319.12 255.99 L319.37 256.10 L319.63 256.21 L319.88 256.33 L320.14 256.44 L320.39 256.55 L320.64 256.66 L320.90 256.78 L321.15 256.89 L321.40 257.01 L321.66 257.12 L321.91 257.24 L322.16 257.36 L322.42 257.48 L322.67 257.60 L322.93 257.72 L323.18 257.84 L323.43 257.96 L323.69 258.08 L323.94 258.20 L324.19 258.32 L324.45 258.45 L324.70 258.57 L324.95 258.70 L325.21 258.82 L325.46 258.95 L325.72 259.08 L325.97 259.21 L326.22 259.34 L326.48 259.47 L326.73 259.60 L326.98 259.73 L327.24 259.86 L327.49 259.99 L327.74 260.13 L328.00 260.26 L328.25 260.40 L328.51 260.54 L328.76 260.67 L329.01 260.81 L329.27 260.95 L329.52 261.09 L329.77 261.23 L330.03 261.37 L330.28 261.51 L330.53 261.66 L330.79 261.80 L331.04 261.95 L331.30 262.09 L331.55 262.24 L331.80 262.39 L332.06 262.54 L332.31 262.69 L332.56 262.84 L332.82 262.99 L333.07 263.14 L333.32 263.29 L333.58 263.45 L333.83 263.60 L334.09 263.76 L334.34 263.92 L334.59 264.08 L334.85 264.24 L335.10 264.40 L335.35 264.56 L335.61 264.72 L335.86 264.88 L336.11 265.05 L336.37 265.21 L336.62 265.38 L336.88 265.55 L337.13 265.72 L337.38 265.89 L337.64 266.06 L337.89 266.23 L338.14 266.40 L338.40 266.58 L338.65 266.75 L338.90 266.93 L339.16 267.11 L339.41 267.29 L339.67 267.47 L339.92 267.65 L340.17 267.83 L340.43 268.02 L340.68 268.20 L340.93 268.39 L341.19 268.58 L341.44 268.77 L341.69 268.96 L341.95 269.15 L342.20 269.35 L342.46 269.55 L342.71 269.74 L342.96 269.94 L343.22 270.15 L343.47 270.35 L343.72 270.55 L343.98 270.76 L344.23 270.97 L344.48 271.18 L344.74 271.39 L344.99 271.61 L345.25 271.82 L345.50 272.04 L345.75 272.26 L346.01 272.48 L346.26 272.71 L346.51 272.94 L346.77 273.17 L347.02 273.40 L347.27 273.63 L347.53 273.87 L347.78 274.11 L348.04 274.35 L348.29 274.60 L348.54 274.85 L348.80 275.10 L349.05 275.35 L349.30 275.61 L349.56 275.87 L349.81 276.13 L350.06 276.40 L350.32 276.67 L350.57 276.94 L350.83 277.22 L351.08 277.50 L351.33 277.78 L351.59 278.07 L351.84 278.37 L352.09 278.66 L352.35 278.96 L352.60 279.27 L352.85 279.58 L353.11 279.90 L353.36 280.22 L353.62 280.54 L353.87 280.87 L354.12 281.21 L354.38 281.55 L354.63 281.90 L354.88 282.25 L355.14 282.61 L355.39 282.98 L355.64 283.35 L355.90 283.74 L356.15 284.13 L356.41 284.52 L356.66 284.93 L356.91 285.34 L357.17 285.76 L357.42 286.19 L357.67 286.64 L357.93 287.09 L358.18 287.55 L358.43 288.02 L358.69 288.51 L358.94 289.01 L359.20 289.52 L359.45 290.05 L359.70 290.59 L359.96 291.14 L360.21 291.71 L360.46 292.30 L360.72 292.91 L360.97 293.54 L361.22 294.19 L361.48 294.87 L361.73 295.56 L361.99 296.29 L362.24 297.04 L362.49 297.83 L362.75 298.64 L363.00 299.50" stroke="#4094d6" stroke-width="1.2" fill="none" stroke-linejoin="round"/>
</g>
<path d="M260.20 241.60H263.40M261.80 240.00V243.20M260.67 240.47L262.93 242.73M260.67 242.73L262.93 240.47" stroke="#D95319" stroke-width="0.75" fill="none"/>
<path d="M285.50 246.10H288.70M287.10 244.50V247.70M285.97 244.97L288.23 247.23M285.97 247.23L288.23 244.97" stroke="#D95319" stroke-width="0.75" fill="none"/>
<path d="M310.80 253.30H314.00M312.40 251.70V254.90M311.27 252.17L313.53 254.43M311.27 254.43L313.53 252.17" stroke="#D95319" stroke-width="0.75" fill="none"/>
<path d="M336.10 266.10H339.30M337.70 264.50V267.70M336.57 264.97L338.83 267.23M336.57 267.23L338.83 264.97" stroke="#D95319" stroke-width="0.75" fill="none"/>
<path d="M361.40 299.50H364.60M363.00 297.90V301.10M361.87 298.37L364.13 300.63M361.87 300.63L364.13 298.37" stroke="#D95319" stroke-width="0.75" fill="none"/>
<g class="t" font-family="&quot;Liberation Sans&quot;, sans-serif" font-size="5.0" fill="#333333"><text x="260.30" y="234.98" text-anchor="end">10</text><text x="260.30" y="245.89" text-anchor="end">5</text><text x="260.30" y="256.80" text-anchor="end">0</text><text x="260.30" y="267.70" text-anchor="end">-5</text><text x="260.30" y="278.61" text-anchor="end">-10</text><text x="260.30" y="289.51" text-anchor="end">-15</text><text x="260.30" y="300.42" text-anchor="end">-20</text><text x="261.80" y="306.80" text-anchor="middle">478</text><text x="287.10" y="306.80" text-anchor="middle">480</text><text x="312.40" y="306.80" text-anchor="middle">482</text><text x="337.70" y="306.80" text-anchor="middle">484</text><text x="363.00" y="306.80" text-anchor="middle">486</text></g>
<text x="312.40" y="314.10" text-anchor="middle" class="t" font-family="&quot;Liberation Sans&quot;, sans-serif" font-size="5.6" fill="#333333">Freq [MHz]</text>
<text transform="translate(250.75 261.95) rotate(-90)" x="0" y="0" text-anchor="middle" class="t" font-family="&quot;Liberation Sans&quot;, sans-serif" font-size="5.6" fill="#333333">Relative RCS change [dB]</text>
<text x="306.80" y="328.60" text-anchor="middle" font-family="&quot;Liberation Serif&quot;, serif" font-size="9.2" fill="#303030" textLength="37.46" lengthAdjust="spacing">(<tspan font-weight="bold">i</tspan>) Point 9.</text>
<clipPath id="clipj"><rect x="20.85" y="333.20" width="102.20" height="75.60"/></clipPath>
<path d="M46.65 333.40V408.60M71.95 333.40V408.60M97.25 333.40V408.60M21.35 341.39H122.55M21.35 352.31H122.55M21.35 363.24H122.55M21.35 374.16H122.55M21.35 385.08H122.55M21.35 396.00H122.55M21.35 406.92H122.55" stroke="#efefef" stroke-width="0.5" fill="none"/>
<rect x="21.35" y="333.40" width="101.20" height="75.20" fill="none" stroke="#c4c4c4" stroke-width="0.7"/>
<path d="M21.35 341.39h1.1M122.55 341.39h-1.1M21.35 352.31h1.1M122.55 352.31h-1.1M21.35 363.24h1.1M122.55 363.24h-1.1M21.35 374.16h1.1M122.55 374.16h-1.1M21.35 385.08h1.1M122.55 385.08h-1.1M21.35 396.00h1.1M122.55 396.00h-1.1M46.65 408.60v-1.1M46.65 333.40v1.1M71.95 408.60v-1.1M71.95 333.40v1.1M97.25 408.60v-1.1M97.25 333.40v1.1" stroke="#b8b8b8" stroke-width="0.5" fill="none"/>
<g clip-path="url(#clipj)">
<path d="M21.35 362.80H122.55" stroke="#7a9a4a" stroke-width="0.9" stroke-dasharray="2.3 2.2" fill="none"/>
<path d="M21.35 363.25H122.55" stroke="#4a4038" stroke-width="0.9" stroke-dasharray="2.3 2.2" fill="none"/>
<path d="M21.35 359.24 L21.60 359.24 L21.86 359.25 L22.11 359.25 L22.36 359.25 L22.62 359.26 L22.87 359.26 L23.13 359.26 L23.38 359.27 L23.63 359.27 L23.89 359.27 L24.14 359.28 L24.39 359.28 L24.65 359.29 L24.90 359.29 L25.15 359.29 L25.41 359.30 L25.66 359.30 L25.92 359.30 L26.17 359.31 L26.42 359.31 L26.68 359.32 L26.93 359.32 L27.18 359.32 L27.44 359.33 L27.69 359.33 L27.94 359.34 L28.20 359.34 L28.45 359.34 L28.71 359.35 L28.96 359.35 L29.21 359.36 L29.47 359.36 L29.72 359.37 L29.97 359.37 L30.23 359.38 L30.48 359.38 L30.73 359.39 L30.99 359.40 L31.24 359.40 L31.50 359.41 L31.75 359.41 L32.00 359.42 L32.26 359.43 L32.51 359.43 L32.76 359.44 L33.02 359.44 L33.27 359.45 L33.52 359.46 L33.78 359.47 L34.03 359.47 L34.29 359.48 L34.54 359.49 L34.79 359.50 L35.05 359.50 L35.30 359.51 L35.55 359.52 L35.81 359.53 L36.06 359.54 L36.31 359.55 L36.57 359.56 L36.82 359.56 L37.08 359.57 L37.33 359.58 L37.58 359.59 L37.84 359.60 L38.09 359.61 L38.34 359.62 L38.60 359.64 L38.85 359.65 L39.10 359.66 L39.36 359.67 L39.61 359.68 L39.87 359.69 L40.12 359.70 L40.37 359.72 L40.63 359.73 L40.88 359.74 L41.13 359.76 L41.39 359.77 L41.64 359.78 L41.89 359.80 L42.15 359.81 L42.40 359.83 L42.66 359.84 L42.91 359.85 L43.16 359.87 L43.42 359.89 L43.67 359.90 L43.92 359.92 L44.18 359.93 L44.43 359.95 L44.68 359.97 L44.94 359.99 L45.19 360.00 L45.45 360.02 L45.70 360.04 L45.95 360.06 L46.21 360.08 L46.46 360.10 L46.71 360.11 L46.97 360.13 L47.22 360.15 L47.47 360.18 L47.73 360.20 L47.98 360.22 L48.24 360.24 L48.49 360.26 L48.74 360.28 L49.00 360.30 L49.25 360.33 L49.50 360.35 L49.76 360.37 L50.01 360.40 L50.26 360.42 L50.52 360.44 L50.77 360.47 L51.03 360.49 L51.28 360.52 L51.53 360.54 L51.79 360.57 L52.04 360.59 L52.29 360.62 L52.55 360.65 L52.80 360.67 L53.05 360.70 L53.31 360.72 L53.56 360.75 L53.82 360.78 L54.07 360.81 L54.32 360.83 L54.58 360.86 L54.83 360.89 L55.08 360.92 L55.34 360.95 L55.59 360.97 L55.84 361.00 L56.10 361.03 L56.35 361.06 L56.61 361.09 L56.86 361.12 L57.11 361.15 L57.37 361.18 L57.62 361.21 L57.87 361.24 L58.13 361.27 L58.38 361.30 L58.63 361.33 L58.89 361.36 L59.14 361.39 L59.40 361.42 L59.65 361.45 L59.90 361.48 L60.16 361.51 L60.41 361.54 L60.66 361.58 L60.92 361.61 L61.17 361.64 L61.42 361.67 L61.68 361.70 L61.93 361.73 L62.19 361.76 L62.44 361.80 L62.69 361.83 L62.95 361.86 L63.20 361.89 L63.45 361.92 L63.71 361.96 L63.96 361.99 L64.21 362.02 L64.47 362.05 L64.72 362.09 L64.98 362.12 L65.23 362.15 L65.48 362.18 L65.74 362.22 L65.99 362.25 L66.24 362.28 L66.50 362.31 L66.75 362.35 L67.00 362.38 L67.26 362.41 L67.51 362.44 L67.77 362.48 L68.02 362.51 L68.27 362.54 L68.53 362.57 L68.78 362.61 L69.03 362.64 L69.29 362.67 L69.54 362.70 L69.79 362.73 L70.05 362.77 L70.30 362.80 L70.56 362.83 L70.81 362.86 L71.06 362.89 L71.32 362.93 L71.57 362.96 L71.82 362.99 L72.08 363.02 L72.33 363.05 L72.58 363.08 L72.84 363.12 L73.09 363.15 L73.34 363.18 L73.60 363.21 L73.85 363.24 L74.11 363.27 L74.36 363.30 L74.61 363.33 L74.87 363.36 L75.12 363.39 L75.37 363.42 L75.63 363.45 L75.88 363.48 L76.13 363.51 L76.39 363.55 L76.64 363.58 L76.90 363.61 L77.15 363.64 L77.40 363.67 L77.66 363.70 L77.91 363.73 L78.16 363.76 L78.42 363.78 L78.67 363.81 L78.92 363.84 L79.18 363.87 L79.43 363.90 L79.69 363.93 L79.94 363.96 L80.19 363.99 L80.45 364.02 L80.70 364.05 L80.95 364.08 L81.21 364.11 L81.46 364.14 L81.71 364.17 L81.97 364.20 L82.22 364.22 L82.48 364.25 L82.73 364.28 L82.98 364.31 L83.24 364.34 L83.49 364.37 L83.74 364.40 L84.00 364.43 L84.25 364.45 L84.50 364.48 L84.76 364.51 L85.01 364.54 L85.27 364.57 L85.52 364.60 L85.77 364.63 L86.03 364.65 L86.28 364.68 L86.53 364.71 L86.79 364.74 L87.04 364.77 L87.29 364.80 L87.55 364.82 L87.80 364.85 L88.06 364.88 L88.31 364.91 L88.56 364.94 L88.82 364.96 L89.07 364.99 L89.32 365.02 L89.58 365.05 L89.83 365.08 L90.08 365.11 L90.34 365.13 L90.59 365.16 L90.85 365.19 L91.10 365.22 L91.35 365.25 L91.61 365.27 L91.86 365.30 L92.11 365.33 L92.37 365.36 L92.62 365.39 L92.87 365.41 L93.13 365.44 L93.38 365.47 L93.64 365.50 L93.89 365.53 L94.14 365.56 L94.40 365.58 L94.65 365.61 L94.90 365.64 L95.16 365.67 L95.41 365.70 L95.66 365.72 L95.92 365.75 L96.17 365.78 L96.43 365.81 L96.68 365.84 L96.93 365.87 L97.19 365.89 L97.44 365.92 L97.69 365.95 L97.95 365.98 L98.20 366.01 L98.45 366.04 L98.71 366.06 L98.96 366.09 L99.22 366.12 L99.47 366.15 L99.72 366.18 L99.98 366.21 L100.23 366.23 L100.48 366.26 L100.74 366.29 L100.99 366.32 L101.24 366.35 L101.50 366.38 L101.75 366.41 L102.01 366.43 L102.26 366.46 L102.51 366.49 L102.77 366.52 L103.02 366.55 L103.27 366.58 L103.53 366.61 L103.78 366.64 L104.03 366.66 L104.29 366.69 L104.54 366.72 L104.80 366.75 L105.05 366.78 L105.30 366.81 L105.56 366.84 L105.81 366.87 L106.06 366.90 L106.32 366.92 L106.57 366.95 L106.82 366.98 L107.08 367.01 L107.33 367.04 L107.59 367.07 L107.84 367.10 L108.09 367.13 L108.35 367.16 L108.60 367.19 L108.85 367.21 L109.11 367.24 L109.36 367.27 L109.61 367.30 L109.87 367.33 L110.12 367.36 L110.38 367.39 L110.63 367.42 L110.88 367.45 L111.14 367.48 L111.39 367.51 L111.64 367.53 L111.90 367.56 L112.15 367.59 L112.40 367.62 L112.66 367.65 L112.91 367.68 L113.17 367.71 L113.42 367.74 L113.67 367.77 L113.93 367.80 L114.18 367.83 L114.43 367.86 L114.69 367.89 L114.94 367.91 L115.19 367.94 L115.45 367.97 L115.70 368.00 L115.96 368.03 L116.21 368.06 L116.46 368.09 L116.72 368.12 L116.97 368.15 L117.22 368.18 L117.48 368.21 L117.73 368.24 L117.98 368.27 L118.24 368.30 L118.49 368.33 L118.75 368.35 L119.00 368.38 L119.25 368.41 L119.51 368.44 L119.76 368.47 L120.01 368.50 L120.27 368.53 L120.52 368.56 L120.77 368.59 L121.03 368.62 L121.28 368.65 L121.54 368.68 L121.79 368.71 L122.04 368.74 L122.30 368.77 L122.55 368.80" stroke="#4094d6" stroke-width="1.2" fill="none" stroke-linejoin="round"/>
</g>
<path d="M19.75 359.24H22.95M21.35 357.64V360.84M20.22 358.11L22.48 360.37M20.22 360.37L22.48 358.11" stroke="#D95319" stroke-width="0.75" fill="none"/>
<path d="M45.05 360.11H48.25M46.65 358.51V361.71M45.52 358.98L47.78 361.24M45.52 361.24L47.78 358.98" stroke="#D95319" stroke-width="0.75" fill="none"/>
<path d="M70.35 363.01H73.55M71.95 361.41V364.61M70.82 361.87L73.08 364.14M70.82 364.14L73.08 361.87" stroke="#D95319" stroke-width="0.75" fill="none"/>
<path d="M95.65 365.90H98.85M97.25 364.30V367.50M96.12 364.77L98.38 367.03M96.12 367.03L98.38 364.77" stroke="#D95319" stroke-width="0.75" fill="none"/>
<path d="M120.95 368.80H124.15M122.55 367.20V370.40M121.42 367.66L123.68 369.93M121.42 369.93L123.68 367.66" stroke="#D95319" stroke-width="0.75" fill="none"/>
<g class="t" font-family="&quot;Liberation Sans&quot;, sans-serif" font-size="5.0" fill="#333333"><text x="19.85" y="343.99" text-anchor="end">10</text><text x="19.85" y="354.91" text-anchor="end">5</text><text x="19.85" y="365.84" text-anchor="end">0</text><text x="19.85" y="376.76" text-anchor="end">-5</text><text x="19.85" y="387.68" text-anchor="end">-10</text><text x="19.85" y="398.60" text-anchor="end">-15</text><text x="19.85" y="409.52" text-anchor="end">-20</text><text x="21.35" y="415.90" text-anchor="middle">478</text><text x="46.65" y="415.90" text-anchor="middle">480</text><text x="71.95" y="415.90" text-anchor="middle">482</text><text x="97.25" y="415.90" text-anchor="middle">484</text><text x="122.55" y="415.90" text-anchor="middle">486</text></g>
<text x="71.95" y="423.20" text-anchor="middle" class="t" font-family="&quot;Liberation Sans&quot;, sans-serif" font-size="5.6" fill="#333333">Freq [MHz]</text>
<text transform="translate(10.30 371.00) rotate(-90)" x="0" y="0" text-anchor="middle" class="t" font-family="&quot;Liberation Sans&quot;, sans-serif" font-size="5.6" fill="#333333">Relative RCS change [dB]</text>
<text x="66.35" y="437.70" text-anchor="middle" font-family="&quot;Liberation Serif&quot;, serif" font-size="9.2" fill="#303030" textLength="42.29" lengthAdjust="spacing">(<tspan font-weight="bold">j</tspan>) Point 10.</text>
<clipPath id="clipk"><rect x="141.10" y="333.20" width="102.20" height="75.60"/></clipPath>
<path d="M166.90 333.40V408.60M192.20 333.40V408.60M217.50 333.40V408.60M141.60 341.39H242.80M141.60 352.31H242.80M141.60 363.24H242.80M141.60 374.16H242.80M141.60 385.08H242.80M141.60 396.00H242.80M141.60 406.92H242.80" stroke="#efefef" stroke-width="0.5" fill="none"/>
<rect x="141.60" y="333.40" width="101.20" height="75.20" fill="none" stroke="#c4c4c4" stroke-width="0.7"/>
<path d="M141.60 341.39h1.1M242.80 341.39h-1.1M141.60 352.31h1.1M242.80 352.31h-1.1M141.60 363.24h1.1M242.80 363.24h-1.1M141.60 374.16h1.1M242.80 374.16h-1.1M141.60 385.08h1.1M242.80 385.08h-1.1M141.60 396.00h1.1M242.80 396.00h-1.1M166.90 408.60v-1.1M166.90 333.40v1.1M192.20 408.60v-1.1M192.20 333.40v1.1M217.50 408.60v-1.1M217.50 333.40v1.1" stroke="#b8b8b8" stroke-width="0.5" fill="none"/>
<g clip-path="url(#clipk)">
<path d="M141.60 363.30H242.80" stroke="#748442" stroke-width="0.9" stroke-dasharray="2.3 2.2" fill="none"/>
<path d="M141.60 366.19 L141.85 366.18 L142.11 366.16 L142.36 366.15 L142.61 366.14 L142.87 366.12 L143.12 366.11 L143.38 366.10 L143.63 366.08 L143.88 366.07 L144.14 366.06 L144.39 366.04 L144.64 366.03 L144.90 366.02 L145.15 366.00 L145.40 365.99 L145.66 365.98 L145.91 365.96 L146.17 365.95 L146.42 365.94 L146.67 365.92 L146.93 365.91 L147.18 365.89 L147.43 365.88 L147.69 365.87 L147.94 365.85 L148.19 365.84 L148.45 365.83 L148.70 365.81 L148.96 365.80 L149.21 365.79 L149.46 365.77 L149.72 365.76 L149.97 365.74 L150.22 365.73 L150.48 365.72 L150.73 365.70 L150.98 365.69 L151.24 365.68 L151.49 365.66 L151.75 365.65 L152.00 365.63 L152.25 365.62 L152.51 365.61 L152.76 365.59 L153.01 365.58 L153.27 365.56 L153.52 365.55 L153.77 365.54 L154.03 365.52 L154.28 365.51 L154.54 365.49 L154.79 365.48 L155.04 365.46 L155.30 365.45 L155.55 365.44 L155.80 365.42 L156.06 365.41 L156.31 365.39 L156.56 365.38 L156.82 365.36 L157.07 365.35 L157.33 365.33 L157.58 365.32 L157.83 365.30 L158.09 365.29 L158.34 365.27 L158.59 365.26 L158.85 365.24 L159.10 365.23 L159.35 365.21 L159.61 365.20 L159.86 365.18 L160.12 365.17 L160.37 365.15 L160.62 365.14 L160.88 365.12 L161.13 365.11 L161.38 365.09 L161.64 365.08 L161.89 365.06 L162.14 365.05 L162.40 365.03 L162.65 365.01 L162.91 365.00 L163.16 364.98 L163.41 364.97 L163.67 364.95 L163.92 364.94 L164.17 364.92 L164.43 364.90 L164.68 364.89 L164.93 364.87 L165.19 364.85 L165.44 364.84 L165.70 364.82 L165.95 364.80 L166.20 364.79 L166.46 364.77 L166.71 364.75 L166.96 364.74 L167.22 364.72 L167.47 364.70 L167.72 364.69 L167.98 364.67 L168.23 364.65 L168.49 364.64 L168.74 364.62 L168.99 364.60 L169.25 364.58 L169.50 364.57 L169.75 364.55 L170.01 364.53 L170.26 364.51 L170.51 364.50 L170.77 364.48 L171.02 364.46 L171.28 364.44 L171.53 364.43 L171.78 364.41 L172.04 364.39 L172.29 364.37 L172.54 364.35 L172.80 364.34 L173.05 364.32 L173.30 364.30 L173.56 364.28 L173.81 364.26 L174.07 364.25 L174.32 364.23 L174.57 364.21 L174.83 364.19 L175.08 364.17 L175.33 364.16 L175.59 364.14 L175.84 364.12 L176.09 364.10 L176.35 364.08 L176.60 364.07 L176.86 364.05 L177.11 364.03 L177.36 364.01 L177.62 363.99 L177.87 363.97 L178.12 363.96 L178.38 363.94 L178.63 363.92 L178.88 363.90 L179.14 363.88 L179.39 363.87 L179.65 363.85 L179.90 363.83 L180.15 363.81 L180.41 363.79 L180.66 363.78 L180.91 363.76 L181.17 363.74 L181.42 363.72 L181.67 363.70 L181.93 363.69 L182.18 363.67 L182.44 363.65 L182.69 363.63 L182.94 363.61 L183.20 363.60 L183.45 363.58 L183.70 363.56 L183.96 363.54 L184.21 363.53 L184.46 363.51 L184.72 363.49 L184.97 363.47 L185.23 363.46 L185.48 363.44 L185.73 363.42 L185.99 363.40 L186.24 363.39 L186.49 363.37 L186.75 363.35 L187.00 363.34 L187.25 363.32 L187.51 363.30 L187.76 363.29 L188.02 363.27 L188.27 363.25 L188.52 363.24 L188.78 363.22 L189.03 363.20 L189.28 363.19 L189.54 363.17 L189.79 363.15 L190.04 363.14 L190.30 363.12 L190.55 363.11 L190.81 363.09 L191.06 363.07 L191.31 363.06 L191.57 363.04 L191.82 363.03 L192.07 363.01 L192.33 363.00 L192.58 362.98 L192.83 362.97 L193.09 362.95 L193.34 362.94 L193.59 362.92 L193.85 362.91 L194.10 362.89 L194.36 362.88 L194.61 362.86 L194.86 362.85 L195.12 362.84 L195.37 362.82 L195.62 362.81 L195.88 362.79 L196.13 362.78 L196.38 362.77 L196.64 362.75 L196.89 362.74 L197.15 362.73 L197.40 362.71 L197.65 362.70 L197.91 362.69 L198.16 362.67 L198.41 362.66 L198.67 362.65 L198.92 362.63 L199.17 362.62 L199.43 362.61 L199.68 362.60 L199.94 362.58 L200.19 362.57 L200.44 362.56 L200.70 362.55 L200.95 362.53 L201.20 362.52 L201.46 362.51 L201.71 362.50 L201.96 362.48 L202.22 362.47 L202.47 362.46 L202.73 362.45 L202.98 362.44 L203.23 362.43 L203.49 362.41 L203.74 362.40 L203.99 362.39 L204.25 362.38 L204.50 362.37 L204.75 362.36 L205.01 362.35 L205.26 362.33 L205.52 362.32 L205.77 362.31 L206.02 362.30 L206.28 362.29 L206.53 362.28 L206.78 362.27 L207.04 362.26 L207.29 362.25 L207.54 362.24 L207.80 362.23 L208.05 362.21 L208.31 362.20 L208.56 362.19 L208.81 362.18 L209.07 362.17 L209.32 362.16 L209.57 362.15 L209.83 362.14 L210.08 362.13 L210.33 362.12 L210.59 362.11 L210.84 362.10 L211.10 362.09 L211.35 362.08 L211.60 362.07 L211.86 362.06 L212.11 362.05 L212.36 362.04 L212.62 362.03 L212.87 362.02 L213.12 362.01 L213.38 362.00 L213.63 361.99 L213.89 361.98 L214.14 361.97 L214.39 361.96 L214.65 361.95 L214.90 361.94 L215.15 361.93 L215.41 361.92 L215.66 361.92 L215.91 361.91 L216.17 361.90 L216.42 361.89 L216.68 361.88 L216.93 361.87 L217.18 361.86 L217.44 361.85 L217.69 361.84 L217.94 361.83 L218.20 361.82 L218.45 361.81 L218.70 361.80 L218.96 361.79 L219.21 361.78 L219.47 361.78 L219.72 361.77 L219.97 361.76 L220.23 361.75 L220.48 361.74 L220.73 361.73 L220.99 361.72 L221.24 361.71 L221.49 361.70 L221.75 361.69 L222.00 361.68 L222.26 361.68 L222.51 361.67 L222.76 361.66 L223.02 361.65 L223.27 361.64 L223.52 361.63 L223.78 361.62 L224.03 361.61 L224.28 361.60 L224.54 361.59 L224.79 361.59 L225.05 361.58 L225.30 361.57 L225.55 361.56 L225.81 361.55 L226.06 361.54 L226.31 361.53 L226.57 361.52 L226.82 361.52 L227.07 361.51 L227.33 361.50 L227.58 361.49 L227.84 361.48 L228.09 361.47 L228.34 361.46 L228.60 361.45 L228.85 361.45 L229.10 361.44 L229.36 361.43 L229.61 361.42 L229.86 361.41 L230.12 361.40 L230.37 361.39 L230.63 361.39 L230.88 361.38 L231.13 361.37 L231.39 361.36 L231.64 361.35 L231.89 361.34 L232.15 361.33 L232.40 361.32 L232.65 361.32 L232.91 361.31 L233.16 361.30 L233.42 361.29 L233.67 361.28 L233.92 361.27 L234.18 361.27 L234.43 361.26 L234.68 361.25 L234.94 361.24 L235.19 361.23 L235.44 361.22 L235.70 361.21 L235.95 361.21 L236.21 361.20 L236.46 361.19 L236.71 361.18 L236.97 361.17 L237.22 361.16 L237.47 361.16 L237.73 361.15 L237.98 361.14 L238.23 361.13 L238.49 361.12 L238.74 361.11 L239.00 361.10 L239.25 361.10 L239.50 361.09 L239.76 361.08 L240.01 361.07 L240.26 361.06 L240.52 361.05 L240.77 361.05 L241.02 361.04 L241.28 361.03 L241.53 361.02 L241.79 361.01 L242.04 361.00 L242.29 361.00 L242.55 360.99 L242.80 360.98" stroke="#4094d6" stroke-width="1.2" fill="none" stroke-linejoin="round"/>
</g>
<path d="M140.00 366.19H143.20M141.60 364.59V367.79M140.47 365.06L142.73 367.32M140.47 367.32L142.73 365.06" stroke="#D95319" stroke-width="0.75" fill="none"/>
<path d="M165.30 364.74H168.50M166.90 363.14V366.34M165.77 363.61L168.03 365.87M165.77 365.87L168.03 363.61" stroke="#D95319" stroke-width="0.75" fill="none"/>
<path d="M190.60 363.01H193.80M192.20 361.41V364.61M191.07 361.87L193.33 364.14M191.07 364.14L193.33 361.87" stroke="#D95319" stroke-width="0.75" fill="none"/>
<path d="M215.90 361.85H219.10M217.50 360.25V363.45M216.37 360.72L218.63 362.98M216.37 362.98L218.63 360.72" stroke="#D95319" stroke-width="0.75" fill="none"/>
<path d="M241.20 360.98H244.40M242.80 359.38V362.58M241.67 359.85L243.93 362.11M241.67 362.11L243.93 359.85" stroke="#D95319" stroke-width="0.75" fill="none"/>
<g class="t" font-family="&quot;Liberation Sans&quot;, sans-serif" font-size="5.0" fill="#333333"><text x="140.10" y="343.99" text-anchor="end">10</text><text x="140.10" y="354.91" text-anchor="end">5</text><text x="140.10" y="365.84" text-anchor="end">0</text><text x="140.10" y="376.76" text-anchor="end">-5</text><text x="140.10" y="387.68" text-anchor="end">-10</text><text x="140.10" y="398.60" text-anchor="end">-15</text><text x="140.10" y="409.52" text-anchor="end">-20</text><text x="141.60" y="415.90" text-anchor="middle">478</text><text x="166.90" y="415.90" text-anchor="middle">480</text><text x="192.20" y="415.90" text-anchor="middle">482</text><text x="217.50" y="415.90" text-anchor="middle">484</text><text x="242.80" y="415.90" text-anchor="middle">486</text></g>
<text x="192.20" y="423.20" text-anchor="middle" class="t" font-family="&quot;Liberation Sans&quot;, sans-serif" font-size="5.6" fill="#333333">Freq [MHz]</text>
<text transform="translate(130.55 371.00) rotate(-90)" x="0" y="0" text-anchor="middle" class="t" font-family="&quot;Liberation Sans&quot;, sans-serif" font-size="5.6" fill="#333333">Relative RCS change [dB]</text>
<text x="186.60" y="437.70" text-anchor="middle" font-family="&quot;Liberation Serif&quot;, serif" font-size="9.2" fill="#303030" textLength="43.91" lengthAdjust="spacing">(<tspan font-weight="bold">k</tspan>) Point 11.</text>
<clipPath id="clipl"><rect x="261.30" y="333.20" width="102.20" height="75.60"/></clipPath>
<path d="M287.10 333.40V408.60M312.40 333.40V408.60M337.70 333.40V408.60M261.80 341.39H363.00M261.80 352.31H363.00M261.80 363.24H363.00M261.80 374.16H363.00M261.80 385.08H363.00M261.80 396.00H363.00M261.80 406.92H363.00" stroke="#efefef" stroke-width="0.5" fill="none"/>
<rect x="261.80" y="333.40" width="101.20" height="75.20" fill="none" stroke="#c4c4c4" stroke-width="0.7"/>
<path d="M261.80 341.39h1.1M363.00 341.39h-1.1M261.80 352.31h1.1M363.00 352.31h-1.1M261.80 363.24h1.1M363.00 363.24h-1.1M261.80 374.16h1.1M363.00 374.16h-1.1M261.80 385.08h1.1M363.00 385.08h-1.1M261.80 396.00h1.1M363.00 396.00h-1.1M287.10 408.60v-1.1M287.10 333.40v1.1M312.40 408.60v-1.1M312.40 333.40v1.1M337.70 408.60v-1.1M337.70 333.40v1.1" stroke="#b8b8b8" stroke-width="0.5" fill="none"/>
<g clip-path="url(#clipl)">
<path d="M261.80 363.40H363.00" stroke="#5f8c32" stroke-width="0.9" stroke-dasharray="2.3 2.2" fill="none"/>
<path d="M261.80 362.43 L262.05 362.43 L262.31 362.44 L262.56 362.45 L262.81 362.45 L263.07 362.46 L263.32 362.47 L263.58 362.47 L263.83 362.48 L264.08 362.49 L264.34 362.49 L264.59 362.50 L264.84 362.51 L265.10 362.51 L265.35 362.52 L265.60 362.52 L265.86 362.53 L266.11 362.54 L266.37 362.54 L266.62 362.55 L266.87 362.56 L267.13 362.56 L267.38 362.57 L267.63 362.58 L267.89 362.58 L268.14 362.59 L268.39 362.60 L268.65 362.60 L268.90 362.61 L269.16 362.62 L269.41 362.62 L269.66 362.63 L269.92 362.63 L270.17 362.64 L270.42 362.65 L270.68 362.65 L270.93 362.66 L271.18 362.67 L271.44 362.67 L271.69 362.68 L271.95 362.68 L272.20 362.69 L272.45 362.70 L272.71 362.70 L272.96 362.71 L273.21 362.72 L273.47 362.72 L273.72 362.73 L273.97 362.73 L274.23 362.74 L274.48 362.75 L274.74 362.75 L274.99 362.76 L275.24 362.76 L275.50 362.77 L275.75 362.78 L276.00 362.78 L276.26 362.79 L276.51 362.79 L276.76 362.80 L277.02 362.80 L277.27 362.81 L277.53 362.82 L277.78 362.82 L278.03 362.83 L278.29 362.83 L278.54 362.84 L278.79 362.84 L279.05 362.85 L279.30 362.85 L279.55 362.86 L279.81 362.87 L280.06 362.87 L280.32 362.88 L280.57 362.88 L280.82 362.89 L281.08 362.89 L281.33 362.90 L281.58 362.90 L281.84 362.91 L282.09 362.91 L282.34 362.92 L282.60 362.92 L282.85 362.93 L283.11 362.93 L283.36 362.94 L283.61 362.94 L283.87 362.95 L284.12 362.95 L284.37 362.96 L284.63 362.96 L284.88 362.97 L285.13 362.97 L285.39 362.98 L285.64 362.98 L285.90 362.98 L286.15 362.99 L286.40 362.99 L286.66 363.00 L286.91 363.00 L287.16 363.01 L287.42 363.01 L287.67 363.01 L287.92 363.02 L288.18 363.02 L288.43 363.03 L288.69 363.03 L288.94 363.03 L289.19 363.04 L289.45 363.04 L289.70 363.05 L289.95 363.05 L290.21 363.05 L290.46 363.06 L290.71 363.06 L290.97 363.06 L291.22 363.07 L291.48 363.07 L291.73 363.08 L291.98 363.08 L292.24 363.08 L292.49 363.09 L292.74 363.09 L293.00 363.09 L293.25 363.10 L293.50 363.10 L293.76 363.10 L294.01 363.11 L294.27 363.11 L294.52 363.11 L294.77 363.12 L295.03 363.12 L295.28 363.12 L295.53 363.12 L295.79 363.13 L296.04 363.13 L296.29 363.13 L296.55 363.14 L296.80 363.14 L297.06 363.14 L297.31 363.14 L297.56 363.15 L297.82 363.15 L298.07 363.15 L298.32 363.16 L298.58 363.16 L298.83 363.16 L299.08 363.16 L299.34 363.17 L299.59 363.17 L299.85 363.17 L300.10 363.17 L300.35 363.18 L300.61 363.18 L300.86 363.18 L301.11 363.19 L301.37 363.19 L301.62 363.19 L301.87 363.19 L302.13 363.20 L302.38 363.20 L302.64 363.20 L302.89 363.20 L303.14 363.21 L303.40 363.21 L303.65 363.21 L303.90 363.21 L304.16 363.22 L304.41 363.22 L304.66 363.22 L304.92 363.22 L305.17 363.23 L305.43 363.23 L305.68 363.23 L305.93 363.23 L306.19 363.23 L306.44 363.24 L306.69 363.24 L306.95 363.24 L307.20 363.24 L307.45 363.25 L307.71 363.25 L307.96 363.25 L308.22 363.25 L308.47 363.26 L308.72 363.26 L308.98 363.26 L309.23 363.26 L309.48 363.27 L309.74 363.27 L309.99 363.27 L310.24 363.27 L310.50 363.28 L310.75 363.28 L311.01 363.28 L311.26 363.28 L311.51 363.29 L311.77 363.29 L312.02 363.29 L312.27 363.29 L312.53 363.30 L312.78 363.30 L313.03 363.30 L313.29 363.30 L313.54 363.31 L313.79 363.31 L314.05 363.31 L314.30 363.31 L314.56 363.32 L314.81 363.32 L315.06 363.32 L315.32 363.32 L315.57 363.33 L315.82 363.33 L316.08 363.33 L316.33 363.34 L316.58 363.34 L316.84 363.34 L317.09 363.34 L317.35 363.35 L317.60 363.35 L317.85 363.35 L318.11 363.35 L318.36 363.36 L318.61 363.36 L318.87 363.36 L319.12 363.37 L319.37 363.37 L319.63 363.37 L319.88 363.37 L320.14 363.38 L320.39 363.38 L320.64 363.38 L320.90 363.39 L321.15 363.39 L321.40 363.39 L321.66 363.39 L321.91 363.40 L322.16 363.40 L322.42 363.40 L322.67 363.41 L322.93 363.41 L323.18 363.41 L323.43 363.41 L323.69 363.42 L323.94 363.42 L324.19 363.42 L324.45 363.43 L324.70 363.43 L324.95 363.43 L325.21 363.44 L325.46 363.44 L325.72 363.44 L325.97 363.44 L326.22 363.45 L326.48 363.45 L326.73 363.45 L326.98 363.46 L327.24 363.46 L327.49 363.46 L327.74 363.47 L328.00 363.47 L328.25 363.47 L328.51 363.47 L328.76 363.48 L329.01 363.48 L329.27 363.48 L329.52 363.49 L329.77 363.49 L330.03 363.49 L330.28 363.50 L330.53 363.50 L330.79 363.50 L331.04 363.50 L331.30 363.51 L331.55 363.51 L331.80 363.51 L332.06 363.52 L332.31 363.52 L332.56 363.52 L332.82 363.53 L333.07 363.53 L333.32 363.53 L333.58 363.54 L333.83 363.54 L334.09 363.54 L334.34 363.54 L334.59 363.55 L334.85 363.55 L335.10 363.55 L335.35 363.56 L335.61 363.56 L335.86 363.56 L336.11 363.57 L336.37 363.57 L336.62 363.57 L336.88 363.57 L337.13 363.58 L337.38 363.58 L337.64 363.58 L337.89 363.59 L338.14 363.59 L338.40 363.59 L338.65 363.60 L338.90 363.60 L339.16 363.60 L339.41 363.60 L339.67 363.61 L339.92 363.61 L340.17 363.61 L340.43 363.62 L340.68 363.62 L340.93 363.62 L341.19 363.63 L341.44 363.63 L341.69 363.63 L341.95 363.63 L342.20 363.64 L342.46 363.64 L342.71 363.64 L342.96 363.65 L343.22 363.65 L343.47 363.65 L343.72 363.65 L343.98 363.66 L344.23 363.66 L344.48 363.66 L344.74 363.67 L344.99 363.67 L345.25 363.67 L345.50 363.68 L345.75 363.68 L346.01 363.68 L346.26 363.68 L346.51 363.69 L346.77 363.69 L347.02 363.69 L347.27 363.70 L347.53 363.70 L347.78 363.70 L348.04 363.70 L348.29 363.71 L348.54 363.71 L348.80 363.71 L349.05 363.72 L349.30 363.72 L349.56 363.72 L349.81 363.72 L350.06 363.73 L350.32 363.73 L350.57 363.73 L350.83 363.74 L351.08 363.74 L351.33 363.74 L351.59 363.75 L351.84 363.75 L352.09 363.75 L352.35 363.75 L352.60 363.76 L352.85 363.76 L353.11 363.76 L353.36 363.77 L353.62 363.77 L353.87 363.77 L354.12 363.77 L354.38 363.78 L354.63 363.78 L354.88 363.78 L355.14 363.79 L355.39 363.79 L355.64 363.79 L355.90 363.79 L356.15 363.80 L356.41 363.80 L356.66 363.80 L356.91 363.81 L357.17 363.81 L357.42 363.81 L357.67 363.81 L357.93 363.82 L358.18 363.82 L358.43 363.82 L358.69 363.83 L358.94 363.83 L359.20 363.83 L359.45 363.83 L359.70 363.84 L359.96 363.84 L360.21 363.84 L360.46 363.85 L360.72 363.85 L360.97 363.85 L361.22 363.85 L361.48 363.86 L361.73 363.86 L361.99 363.86 L362.24 363.87 L362.49 363.87 L362.75 363.87 L363.00 363.87" stroke="#4094d6" stroke-width="1.2" fill="none" stroke-linejoin="round"/>
</g>
<path d="M260.20 362.43H263.40M261.80 360.83V364.03M260.67 361.29L262.93 363.56M260.67 363.56L262.93 361.29" stroke="#D95319" stroke-width="0.75" fill="none"/>
<path d="M285.50 363.01H288.70M287.10 361.41V364.61M285.97 361.87L288.23 364.14M285.97 364.14L288.23 361.87" stroke="#D95319" stroke-width="0.75" fill="none"/>
<path d="M310.80 363.29H314.00M312.40 361.69V364.89M311.27 362.16L313.53 364.43M311.27 364.43L313.53 362.16" stroke="#D95319" stroke-width="0.75" fill="none"/>
<path d="M336.10 363.58H339.30M337.70 361.98V365.18M336.57 362.45L338.83 364.72M336.57 364.72L338.83 362.45" stroke="#D95319" stroke-width="0.75" fill="none"/>
<path d="M361.40 363.87H364.60M363.00 362.27V365.47M361.87 362.74L364.13 365.01M361.87 365.01L364.13 362.74" stroke="#D95319" stroke-width="0.75" fill="none"/>
<g class="t" font-family="&quot;Liberation Sans&quot;, sans-serif" font-size="5.0" fill="#333333"><text x="260.30" y="343.99" text-anchor="end">10</text><text x="260.30" y="354.91" text-anchor="end">5</text><text x="260.30" y="365.84" text-anchor="end">0</text><text x="260.30" y="376.76" text-anchor="end">-5</text><text x="260.30" y="387.68" text-anchor="end">-10</text><text x="260.30" y="398.60" text-anchor="end">-15</text><text x="260.30" y="409.52" text-anchor="end">-20</text><text x="261.80" y="415.90" text-anchor="middle">478</text><text x="287.10" y="415.90" text-anchor="middle">480</text><text x="312.40" y="415.90" text-anchor="middle">482</text><text x="337.70" y="415.90" text-anchor="middle">484</text><text x="363.00" y="415.90" text-anchor="middle">486</text></g>
<text x="312.40" y="423.20" text-anchor="middle" class="t" font-family="&quot;Liberation Sans&quot;, sans-serif" font-size="5.6" fill="#333333">Freq [MHz]</text>
<text transform="translate(250.75 371.00) rotate(-90)" x="0" y="0" text-anchor="middle" class="t" font-family="&quot;Liberation Sans&quot;, sans-serif" font-size="5.6" fill="#333333">Relative RCS change [dB]</text>
<text x="306.80" y="437.70" text-anchor="middle" font-family="&quot;Liberation Serif&quot;, serif" font-size="9.2" fill="#303030" textLength="41.81" lengthAdjust="spacing">(<tspan font-weight="bold">l</tspan>) Point 12.</text>
<clipPath id="clipm"><rect x="142.30" y="442.30" width="102.20" height="75.55"/></clipPath>
<path d="M168.10 442.50V517.65M193.40 442.50V517.65M218.70 442.50V517.65M142.80 450.49H244.00M142.80 461.40H244.00M142.80 472.32H244.00M142.80 483.23H244.00M142.80 494.14H244.00M142.80 505.06H244.00M142.80 515.97H244.00" stroke="#efefef" stroke-width="0.5" fill="none"/>
<rect x="142.80" y="442.50" width="101.20" height="75.15" fill="none" stroke="#c4c4c4" stroke-width="0.7"/>
<path d="M142.80 450.49h1.1M244.00 450.49h-1.1M142.80 461.40h1.1M244.00 461.40h-1.1M142.80 472.32h1.1M244.00 472.32h-1.1M142.80 483.23h1.1M244.00 483.23h-1.1M142.80 494.14h1.1M244.00 494.14h-1.1M142.80 505.06h1.1M244.00 505.06h-1.1M168.10 517.65v-1.1M168.10 442.50v1.1M193.40 517.65v-1.1M193.40 442.50v1.1M218.70 517.65v-1.1M218.70 442.50v1.1" stroke="#b8b8b8" stroke-width="0.5" fill="none"/>
<g clip-path="url(#clipm)">
<path d="M142.80 471.80H244.00" stroke="#8e8e58" stroke-width="0.9" stroke-dasharray="2.3 2.2" fill="none"/>
<path d="M142.80 470.27 L143.05 470.28 L143.31 470.29 L143.56 470.29 L143.81 470.30 L144.07 470.31 L144.32 470.32 L144.58 470.33 L144.83 470.34 L145.08 470.35 L145.34 470.36 L145.59 470.37 L145.84 470.37 L146.10 470.38 L146.35 470.39 L146.60 470.40 L146.86 470.41 L147.11 470.42 L147.37 470.43 L147.62 470.44 L147.87 470.45 L148.13 470.45 L148.38 470.46 L148.63 470.47 L148.89 470.48 L149.14 470.49 L149.39 470.50 L149.65 470.51 L149.90 470.52 L150.16 470.52 L150.41 470.53 L150.66 470.54 L150.92 470.55 L151.17 470.56 L151.42 470.57 L151.68 470.58 L151.93 470.59 L152.18 470.60 L152.44 470.60 L152.69 470.61 L152.95 470.62 L153.20 470.63 L153.45 470.64 L153.71 470.65 L153.96 470.66 L154.21 470.67 L154.47 470.67 L154.72 470.68 L154.97 470.69 L155.23 470.70 L155.48 470.71 L155.74 470.72 L155.99 470.73 L156.24 470.74 L156.50 470.74 L156.75 470.75 L157.00 470.76 L157.26 470.77 L157.51 470.78 L157.76 470.79 L158.02 470.80 L158.27 470.81 L158.53 470.81 L158.78 470.82 L159.03 470.83 L159.29 470.84 L159.54 470.85 L159.79 470.86 L160.05 470.87 L160.30 470.87 L160.55 470.88 L160.81 470.89 L161.06 470.90 L161.32 470.91 L161.57 470.92 L161.82 470.93 L162.08 470.93 L162.33 470.94 L162.58 470.95 L162.84 470.96 L163.09 470.97 L163.34 470.98 L163.60 470.99 L163.85 470.99 L164.11 471.00 L164.36 471.01 L164.61 471.02 L164.87 471.03 L165.12 471.04 L165.37 471.05 L165.63 471.05 L165.88 471.06 L166.13 471.07 L166.39 471.08 L166.64 471.09 L166.90 471.10 L167.15 471.11 L167.40 471.11 L167.66 471.12 L167.91 471.13 L168.16 471.14 L168.42 471.15 L168.67 471.16 L168.92 471.16 L169.18 471.17 L169.43 471.18 L169.69 471.19 L169.94 471.20 L170.19 471.21 L170.45 471.21 L170.70 471.22 L170.95 471.23 L171.21 471.24 L171.46 471.25 L171.71 471.26 L171.97 471.26 L172.22 471.27 L172.48 471.28 L172.73 471.29 L172.98 471.30 L173.24 471.31 L173.49 471.31 L173.74 471.32 L174.00 471.33 L174.25 471.34 L174.50 471.35 L174.76 471.36 L175.01 471.36 L175.27 471.37 L175.52 471.38 L175.77 471.39 L176.03 471.40 L176.28 471.41 L176.53 471.41 L176.79 471.42 L177.04 471.43 L177.29 471.44 L177.55 471.45 L177.80 471.46 L178.06 471.46 L178.31 471.47 L178.56 471.48 L178.82 471.49 L179.07 471.50 L179.32 471.51 L179.58 471.51 L179.83 471.52 L180.08 471.53 L180.34 471.54 L180.59 471.55 L180.85 471.56 L181.10 471.57 L181.35 471.57 L181.61 471.58 L181.86 471.59 L182.11 471.60 L182.37 471.61 L182.62 471.62 L182.87 471.63 L183.13 471.63 L183.38 471.64 L183.64 471.65 L183.89 471.66 L184.14 471.67 L184.40 471.68 L184.65 471.69 L184.90 471.70 L185.16 471.70 L185.41 471.71 L185.66 471.72 L185.92 471.73 L186.17 471.74 L186.43 471.75 L186.68 471.76 L186.93 471.77 L187.19 471.78 L187.44 471.78 L187.69 471.79 L187.95 471.80 L188.20 471.81 L188.45 471.82 L188.71 471.83 L188.96 471.84 L189.22 471.85 L189.47 471.86 L189.72 471.87 L189.98 471.88 L190.23 471.89 L190.48 471.89 L190.74 471.90 L190.99 471.91 L191.24 471.92 L191.50 471.93 L191.75 471.94 L192.01 471.95 L192.26 471.96 L192.51 471.97 L192.77 471.98 L193.02 471.99 L193.27 472.00 L193.53 472.01 L193.78 472.02 L194.03 472.03 L194.29 472.04 L194.54 472.05 L194.79 472.06 L195.05 472.07 L195.30 472.08 L195.56 472.09 L195.81 472.10 L196.06 472.11 L196.32 472.12 L196.57 472.13 L196.82 472.14 L197.08 472.15 L197.33 472.16 L197.58 472.17 L197.84 472.18 L198.09 472.19 L198.35 472.20 L198.60 472.21 L198.85 472.22 L199.11 472.24 L199.36 472.25 L199.61 472.26 L199.87 472.27 L200.12 472.28 L200.37 472.29 L200.63 472.30 L200.88 472.31 L201.14 472.32 L201.39 472.33 L201.64 472.34 L201.90 472.35 L202.15 472.37 L202.40 472.38 L202.66 472.39 L202.91 472.40 L203.16 472.41 L203.42 472.42 L203.67 472.43 L203.93 472.44 L204.18 472.45 L204.43 472.47 L204.69 472.48 L204.94 472.49 L205.19 472.50 L205.45 472.51 L205.70 472.52 L205.95 472.54 L206.21 472.55 L206.46 472.56 L206.72 472.57 L206.97 472.58 L207.22 472.59 L207.48 472.61 L207.73 472.62 L207.98 472.63 L208.24 472.64 L208.49 472.65 L208.74 472.67 L209.00 472.68 L209.25 472.69 L209.51 472.70 L209.76 472.71 L210.01 472.73 L210.27 472.74 L210.52 472.75 L210.77 472.76 L211.03 472.77 L211.28 472.79 L211.53 472.80 L211.79 472.81 L212.04 472.82 L212.30 472.84 L212.55 472.85 L212.80 472.86 L213.06 472.87 L213.31 472.89 L213.56 472.90 L213.82 472.91 L214.07 472.92 L214.32 472.94 L214.58 472.95 L214.83 472.96 L215.09 472.98 L215.34 472.99 L215.59 473.00 L215.85 473.02 L216.10 473.03 L216.35 473.04 L216.61 473.05 L216.86 473.07 L217.11 473.08 L217.37 473.09 L217.62 473.11 L217.88 473.12 L218.13 473.13 L218.38 473.15 L218.64 473.16 L218.89 473.17 L219.14 473.19 L219.40 473.20 L219.65 473.21 L219.90 473.23 L220.16 473.24 L220.41 473.25 L220.67 473.27 L220.92 473.28 L221.17 473.30 L221.43 473.31 L221.68 473.32 L221.93 473.34 L222.19 473.35 L222.44 473.36 L222.69 473.38 L222.95 473.39 L223.20 473.41 L223.46 473.42 L223.71 473.43 L223.96 473.45 L224.22 473.46 L224.47 473.48 L224.72 473.49 L224.98 473.50 L225.23 473.52 L225.48 473.53 L225.74 473.55 L225.99 473.56 L226.25 473.57 L226.50 473.59 L226.75 473.60 L227.01 473.62 L227.26 473.63 L227.51 473.65 L227.77 473.66 L228.02 473.68 L228.27 473.69 L228.53 473.70 L228.78 473.72 L229.04 473.73 L229.29 473.75 L229.54 473.76 L229.80 473.78 L230.05 473.79 L230.30 473.81 L230.56 473.82 L230.81 473.83 L231.06 473.85 L231.32 473.86 L231.57 473.88 L231.83 473.89 L232.08 473.91 L232.33 473.92 L232.59 473.94 L232.84 473.95 L233.09 473.97 L233.35 473.98 L233.60 474.00 L233.85 474.01 L234.11 474.03 L234.36 474.04 L234.62 474.06 L234.87 474.07 L235.12 474.09 L235.38 474.10 L235.63 474.12 L235.88 474.13 L236.14 474.15 L236.39 474.16 L236.64 474.17 L236.90 474.19 L237.15 474.20 L237.41 474.22 L237.66 474.23 L237.91 474.25 L238.17 474.26 L238.42 474.28 L238.67 474.29 L238.93 474.31 L239.18 474.32 L239.43 474.34 L239.69 474.35 L239.94 474.37 L240.20 474.38 L240.45 474.40 L240.70 474.41 L240.96 474.43 L241.21 474.45 L241.46 474.46 L241.72 474.48 L241.97 474.49 L242.22 474.51 L242.48 474.52 L242.73 474.54 L242.99 474.55 L243.24 474.57 L243.49 474.58 L243.75 474.60 L244.00 474.61" stroke="#4094d6" stroke-width="1.2" fill="none" stroke-linejoin="round"/>
</g>
<path d="M141.20 470.27H144.40M142.80 468.67V471.87M141.67 469.14L143.93 471.40M141.67 471.40L143.93 469.14" stroke="#D95319" stroke-width="0.75" fill="none"/>
<path d="M166.50 471.14H169.70M168.10 469.54V472.74M166.97 470.01L169.23 472.27M166.97 472.27L169.23 470.01" stroke="#D95319" stroke-width="0.75" fill="none"/>
<path d="M191.80 472.01H195.00M193.40 470.41V473.61M192.27 470.87L194.53 473.14M192.27 473.14L194.53 470.87" stroke="#D95319" stroke-width="0.75" fill="none"/>
<path d="M217.10 473.16H220.30M218.70 471.56V474.76M217.57 472.03L219.83 474.29M217.57 474.29L219.83 472.03" stroke="#D95319" stroke-width="0.75" fill="none"/>
<path d="M242.40 474.61H245.60M244.00 473.01V476.21M242.87 473.48L245.13 475.74M242.87 475.74L245.13 473.48" stroke="#D95319" stroke-width="0.75" fill="none"/>
<g class="t" font-family="&quot;Liberation Sans&quot;, sans-serif" font-size="5.0" fill="#333333"><text x="141.30" y="453.09" text-anchor="end">10</text><text x="141.30" y="464.00" text-anchor="end">5</text><text x="141.30" y="474.92" text-anchor="end">0</text><text x="141.30" y="485.83" text-anchor="end">-5</text><text x="141.30" y="496.74" text-anchor="end">-10</text><text x="141.30" y="507.66" text-anchor="end">-15</text><text x="141.30" y="518.57" text-anchor="end">-20</text><text x="142.80" y="524.95" text-anchor="middle">478</text><text x="168.10" y="524.95" text-anchor="middle">480</text><text x="193.40" y="524.95" text-anchor="middle">482</text><text x="218.70" y="524.95" text-anchor="middle">484</text><text x="244.00" y="524.95" text-anchor="middle">486</text></g>
<text x="193.40" y="532.25" text-anchor="middle" class="t" font-family="&quot;Liberation Sans&quot;, sans-serif" font-size="5.6" fill="#333333">Freq [MHz]</text>
<text transform="translate(131.75 480.07) rotate(-90)" x="0" y="0" text-anchor="middle" class="t" font-family="&quot;Liberation Sans&quot;, sans-serif" font-size="5.6" fill="#333333">Relative RCS change [dB]</text>
<text x="187.80" y="546.75" text-anchor="middle" font-family="&quot;Liberation Serif&quot;, serif" font-size="9.2" fill="#303030" textLength="46.64" lengthAdjust="spacing">(<tspan font-weight="bold">m</tspan>) Point 13.</text>
<rect x="168.5" y="483.3" width="50.3" height="31.9" fill="#fff" stroke="#c4c4c4" stroke-width="0.6"/>
<path d="M169.2 487.0H178" stroke="#4094d6" stroke-width="1.2"/>
<path d="M172.30 493.40H175.50M173.90 491.80V495.00M172.77 492.27L175.03 494.53M172.77 494.53L175.03 492.27" stroke="#D95319" stroke-width="0.75" fill="none"/>
<path d="M169.6 499.6H178" stroke="#EDB94A" stroke-width="0.9" stroke-dasharray="2.2 2.2"/>
<path d="M169.6 505.9H178" stroke="#8A4498" stroke-width="0.9" stroke-dasharray="2.2 2.2"/>
<path d="M169.6 512.1H178" stroke="#85B64A" stroke-width="0.9" stroke-dasharray="2.2 2.2"/>
<g class="t" font-family="&quot;Liberation Sans&quot;, sans-serif" font-size="5.0" fill="#333333"><text x="179.2" y="488.85">Full sweep</text><text x="179.2" y="495.25">5-freq sweep</text><text x="179.2" y="501.45">Full mean</text><text x="179.2" y="507.75">5-freq mean</text><text x="179.2" y="513.95">Centre-freq value</text></g>
</svg>
</body></html>
